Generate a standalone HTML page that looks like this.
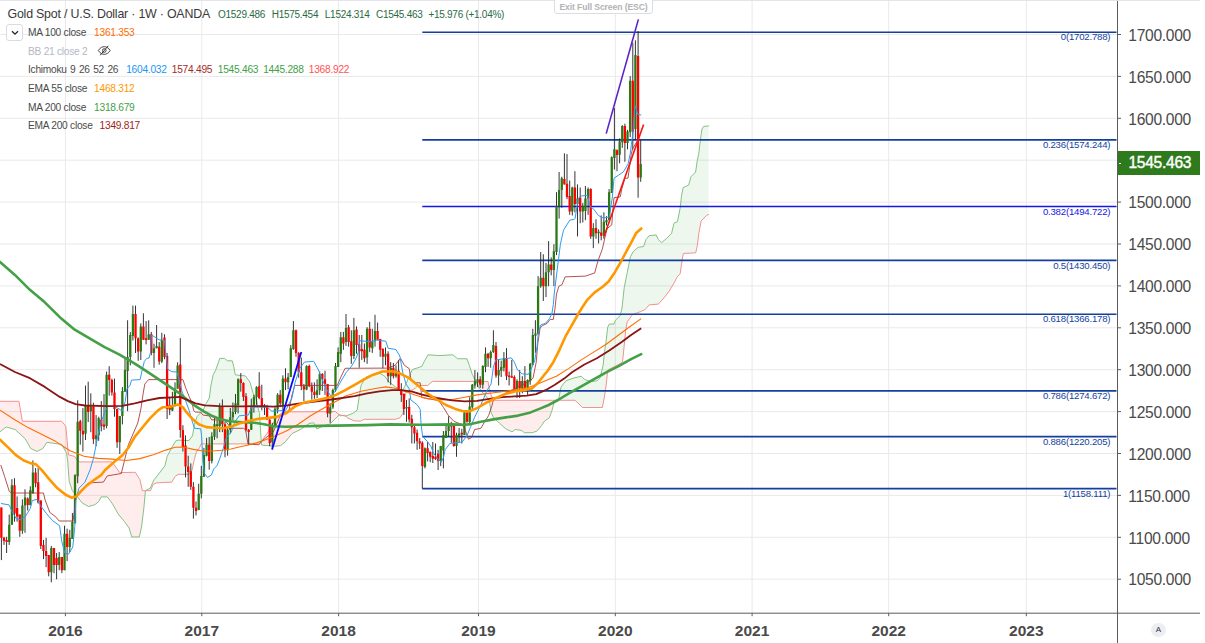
<!DOCTYPE html>
<html><head><meta charset="utf-8"><title>XAUUSD</title>
<style>
html,body{margin:0;padding:0;background:#fff;}
body{width:1205px;height:643px;position:relative;overflow:hidden;font-family:"Liberation Sans",sans-serif;}
svg{position:absolute;left:0;top:0;}
.t{position:absolute;white-space:nowrap;line-height:1;}
.pl{left:1128.3px;font-size:15.6px;color:#4a4a4a;letter-spacing:-0.3px;}
.yl{font-size:15.5px;font-weight:bold;color:#4a4a4a;width:60px;text-align:center;}
.fl{font-size:9.6px;width:120px;text-align:right;letter-spacing:-0.2px;}
.lg{left:28px;font-size:10.2px;color:#4a4a4a;letter-spacing:-0.26px;}
.lg span{position:absolute;top:0;}
</style></head><body>
<svg width="1205" height="643" viewBox="0 0 1205 643"><line x1="0" y1="579.2" x2="1117.5" y2="579.2" stroke="#e9e9e9" stroke-width="1"/>
<line x1="0" y1="537.3" x2="1117.5" y2="537.3" stroke="#e9e9e9" stroke-width="1"/>
<line x1="0" y1="495.4" x2="1117.5" y2="495.4" stroke="#e9e9e9" stroke-width="1"/>
<line x1="0" y1="453.5" x2="1117.5" y2="453.5" stroke="#e9e9e9" stroke-width="1"/>
<line x1="0" y1="411.6" x2="1117.5" y2="411.6" stroke="#e9e9e9" stroke-width="1"/>
<line x1="0" y1="369.7" x2="1117.5" y2="369.7" stroke="#e9e9e9" stroke-width="1"/>
<line x1="0" y1="327.8" x2="1117.5" y2="327.8" stroke="#e9e9e9" stroke-width="1"/>
<line x1="0" y1="285.9" x2="1117.5" y2="285.9" stroke="#e9e9e9" stroke-width="1"/>
<line x1="0" y1="244.0" x2="1117.5" y2="244.0" stroke="#e9e9e9" stroke-width="1"/>
<line x1="0" y1="202.1" x2="1117.5" y2="202.1" stroke="#e9e9e9" stroke-width="1"/>
<line x1="0" y1="160.2" x2="1117.5" y2="160.2" stroke="#e9e9e9" stroke-width="1"/>
<line x1="0" y1="118.3" x2="1117.5" y2="118.3" stroke="#e9e9e9" stroke-width="1"/>
<line x1="0" y1="76.4" x2="1117.5" y2="76.4" stroke="#e9e9e9" stroke-width="1"/>
<line x1="0" y1="34.5" x2="1117.5" y2="34.5" stroke="#e9e9e9" stroke-width="1"/>
<line x1="65.4" y1="0" x2="65.4" y2="613.2" stroke="#e9e9e9" stroke-width="1"/>
<line x1="201.8" y1="0" x2="201.8" y2="613.2" stroke="#e9e9e9" stroke-width="1"/>
<line x1="338.6" y1="0" x2="338.6" y2="613.2" stroke="#e9e9e9" stroke-width="1"/>
<line x1="478.5" y1="0" x2="478.5" y2="613.2" stroke="#e9e9e9" stroke-width="1"/>
<line x1="615.3" y1="0" x2="615.3" y2="613.2" stroke="#e9e9e9" stroke-width="1"/>
<line x1="752.1" y1="0" x2="752.1" y2="613.2" stroke="#e9e9e9" stroke-width="1"/>
<line x1="888.7" y1="0" x2="888.7" y2="613.2" stroke="#e9e9e9" stroke-width="1"/>
<line x1="1026.3" y1="0" x2="1026.3" y2="613.2" stroke="#e9e9e9" stroke-width="1"/>
<path d="M0.0,431.8 L0.5,431.4 L1.0,431.0 L1.5,430.6 L2.0,430.2 L2.5,429.9 L3.0,429.5 L3.5,429.1 L4.0,428.7 L4.5,428.3 L5.0,427.9 L5.5,427.5 L6.0,427.1 L6.5,427.0 L7.0,427.1 L7.5,427.3 L8.0,427.4 L8.5,427.6 L9.0,427.7 L9.5,427.9 L10.0,428.0 L10.5,428.2 L11.0,428.3 L11.5,428.5 L12.0,428.7 L12.5,428.8 L13.0,429.0 L13.5,429.1 L14.0,429.3 L14.5,429.4 L15.0,429.6 L15.5,429.8 L16.0,430.3 L16.5,430.7 L17.0,431.2 L17.5,431.6 L18.0,432.1 L18.5,432.6 L19.0,433.0 L19.5,433.5 L20.0,434.0 L20.5,434.4 L21.0,434.9 L21.5,435.4 L22.0,435.8 L22.5,436.3 L23.0,436.8 L23.5,437.2 L24.0,437.7 L24.5,438.2 L25.0,438.6 L25.5,439.3 L26.0,440.2 L26.5,441.1 L27.0,441.9 L27.5,442.8 L28.0,443.7 L28.5,444.6 L29.0,445.5 L29.5,446.3 L30.0,447.2 L30.5,448.1 L31.0,448.7 L31.5,448.9 L32.0,449.1 L32.5,449.4 L33.0,449.6 L33.5,449.8 L34.0,450.0 L34.5,450.2 L35.0,450.5 L35.5,450.7 L36.0,450.9 L36.5,451.1 L37.0,451.4 L37.5,451.2 L38.0,450.9 L38.5,450.7 L39.0,450.4 L39.5,450.2 L40.0,449.9 L40.5,449.7 L41.0,449.4 L41.5,449.2 L42.0,449.0 L42.5,448.7 L43.0,448.2 L43.5,447.4 L44.0,446.7 L44.5,445.9 L45.0,445.2 L45.5,444.4 L46.0,443.7 L46.5,442.9 L47.0,442.3 L47.5,442.4 L48.0,442.5 L48.5,442.5 L49.0,442.6 L49.5,442.7 L50.0,442.7 L50.5,442.8 L51.0,442.9 L51.5,443.0 L52.0,443.0 L52.5,443.1 L53.0,443.2 L53.5,443.2 L54.0,443.3 L54.5,443.4 L55.0,443.5 L55.5,443.5 L56.0,443.6 L56.5,443.7 L57.0,443.7 L57.5,443.8 L58.0,443.9 L58.5,444.0 L59.0,444.0 L59.5,444.1 L60.0,444.2 L60.5,444.2 L61.0,444.3 L61.5,444.4 L62.0,445.1 L62.5,445.9 L63.0,446.8 L63.5,447.7 L64.0,448.5 L64.5,449.4 L65.0,450.2 L65.5,451.1 L66.0,451.9 L66.5,452.8 L67.0,456.3 L67.5,459.7 L68.0,465.1 L68.5,471.9 L69.0,478.6 L69.5,482.2 L70.0,483.7 L70.5,485.2 L71.0,486.8 L71.5,488.3 L72.0,489.8 L72.5,490.9 L73.0,491.5 L73.5,492.1 L74.0,492.7 L74.5,493.3 L75.0,493.9 L75.5,494.5 L76.0,495.1 L76.5,495.7 L77.0,496.3 L77.5,496.9 L78.0,497.6 L78.5,498.2 L79.0,498.8 L79.5,499.5 L80.0,500.1 L80.5,500.7 L81.0,501.3 L81.5,502.0 L82.0,502.6 L82.5,503.2 L83.0,503.4 L83.5,503.7 L84.0,504.0 L84.5,504.3 L85.0,504.5 L85.5,504.8 L86.0,505.1 L86.5,505.3 L87.0,505.6 L87.5,505.9 L88.0,506.2 L88.5,506.4 L89.0,506.4 L89.5,506.2 L90.0,506.1 L90.5,506.0 L91.0,505.8 L91.5,505.7 L92.0,505.5 L92.5,505.4 L93.0,505.2 L93.5,505.1 L94.0,505.0 L94.5,504.8 L95.0,504.6 L95.5,504.2 L96.0,503.8 L96.5,503.4 L97.0,503.0 L97.5,502.6 L98.0,502.2 L98.5,501.7 L99.0,501.1 L99.5,500.1 L100.0,499.1 L100.5,498.1 L101.0,497.1 L101.5,496.9 L102.0,496.9 L102.5,496.9 L103.0,496.9 L103.5,496.9 L104.0,496.9 L104.5,496.9 L105.0,496.9 L105.5,496.9 L106.0,496.9 L106.5,496.9 L107.0,496.9 L107.5,497.2 L108.0,497.8 L108.5,498.5 L109.0,499.1 L109.5,499.8 L110.0,500.5 L110.5,501.1 L111.0,501.8 L111.5,502.4 L112.0,503.1 L112.5,504.0 L113.0,504.9 L113.5,505.7 L114.0,506.6 L114.5,507.5 L115.0,508.4 L115.5,509.3 L116.0,510.1 L116.5,511.0 L117.0,511.9 L117.5,512.8 L118.0,513.6 L118.5,514.4 L119.0,515.0 L119.5,515.6 L120.0,516.2 L120.5,516.8 L121.0,517.4 L121.5,518.0 L122.0,518.6 L122.5,519.2 L123.0,519.8 L123.5,520.4 L124.0,521.0 L124.5,521.6 L125.0,522.3 L125.5,523.0 L126.0,523.7 L126.5,524.4 L127.0,525.1 L127.5,525.8 L128.0,526.5 L128.5,527.2 L129.0,527.9 L129.5,529.3 L130.0,531.0 L130.5,532.7 L131.0,534.3 L131.5,536.0 L132.0,537.0 L132.5,537.0 L133.0,537.0 L133.5,537.0 L134.0,537.0 L134.5,537.0 L135.0,537.0 L135.5,537.0 L136.0,537.0 L136.5,537.0 L137.0,537.0 L137.5,537.0 L138.0,537.0 L138.5,537.0 L139.0,537.0 L139.5,536.1 L140.0,533.8 L140.5,531.5 L141.0,529.3 L141.5,527.0 L142.0,523.0 L142.5,519.0 L143.0,515.0 L143.5,511.0 L144.0,506.7 L144.5,501.0 L145.0,495.3 L145.5,490.6 L145.5,490.7 L145.0,490.7 L144.5,490.7 L144.0,490.7 L143.5,490.7 L143.0,490.7 L142.5,490.7 L142.0,489.3 L141.5,486.9 L141.0,484.5 L140.5,482.2 L140.0,479.8 L139.5,479.0 L139.0,478.2 L138.5,477.4 L138.0,476.6 L137.5,475.8 L137.0,475.0 L136.5,474.2 L136.0,473.4 L135.5,472.6 L135.0,472.3 L134.5,472.3 L134.0,472.3 L133.5,472.3 L133.0,472.3 L132.5,472.4 L132.0,472.4 L131.5,472.4 L131.0,472.4 L130.5,472.4 L130.0,472.4 L129.5,472.4 L129.0,472.4 L128.5,472.4 L128.0,472.4 L127.5,472.5 L127.0,472.5 L126.5,472.5 L126.0,472.5 L125.5,472.5 L125.0,472.5 L124.5,472.5 L124.0,472.5 L123.5,472.5 L123.0,472.5 L122.5,472.5 L122.0,472.6 L121.5,472.6 L121.0,472.6 L120.5,472.6 L120.0,472.6 L119.5,472.2 L119.0,471.5 L118.5,470.8 L118.0,470.2 L117.5,469.5 L117.0,468.8 L116.5,468.1 L116.0,467.4 L115.5,466.7 L115.0,466.1 L114.5,465.4 L114.0,464.7 L113.5,464.0 L113.0,463.3 L112.5,462.6 L112.0,461.9 L111.5,461.9 L111.0,461.9 L110.5,461.9 L110.0,461.9 L109.5,461.9 L109.0,461.9 L108.5,461.9 L108.0,461.9 L107.5,461.9 L107.0,461.9 L106.5,461.9 L106.0,461.9 L105.5,461.9 L105.0,461.9 L104.5,461.9 L104.0,461.9 L103.5,461.9 L103.0,461.9 L102.5,461.9 L102.0,461.9 L101.5,461.9 L101.0,461.9 L100.5,461.9 L100.0,461.9 L99.5,461.9 L99.0,461.9 L98.5,461.9 L98.0,461.9 L97.5,461.9 L97.0,461.9 L96.5,461.9 L96.0,461.9 L95.5,461.9 L95.0,461.9 L94.5,461.9 L94.0,461.9 L93.5,461.9 L93.0,461.9 L92.5,461.9 L92.0,461.9 L91.5,461.9 L91.0,461.9 L90.5,461.9 L90.0,461.9 L89.5,461.9 L89.0,461.9 L88.5,461.9 L88.0,461.9 L87.5,461.9 L87.0,461.9 L86.5,461.9 L86.0,461.9 L85.5,461.9 L85.0,461.9 L84.5,461.9 L84.0,461.9 L83.5,461.9 L83.0,461.9 L82.5,461.9 L82.0,461.9 L81.5,461.9 L81.0,461.9 L80.5,461.9 L80.0,461.9 L79.5,461.7 L79.0,461.5 L78.5,461.3 L78.0,461.2 L77.5,460.6 L77.0,459.9 L76.5,459.1 L76.0,458.4 L75.5,457.6 L75.0,456.9 L74.5,456.4 L74.0,456.2 L73.5,456.1 L73.0,456.0 L72.5,455.9 L72.0,455.8 L71.5,455.6 L71.0,455.5 L70.5,455.4 L70.0,455.3 L69.5,455.2 L69.0,455.0 L68.5,454.9 L68.0,450.5 L67.5,445.0 L67.0,439.4 L66.5,433.9 L66.0,428.4 L65.5,425.8 L65.0,425.3 L64.5,424.7 L64.0,424.1 L63.5,423.5 L63.0,422.9 L62.5,422.4 L62.0,421.8 L61.5,421.3 L61.0,421.3 L60.5,421.3 L60.0,421.3 L59.5,421.3 L59.0,421.3 L58.5,421.3 L58.0,421.3 L57.5,421.3 L57.0,421.3 L56.5,421.3 L56.0,421.3 L55.5,421.3 L55.0,421.3 L54.5,421.3 L54.0,421.3 L53.5,421.3 L53.0,421.3 L52.5,421.3 L52.0,421.3 L51.5,421.3 L51.0,421.3 L50.5,421.3 L50.0,421.3 L49.5,421.3 L49.0,421.3 L48.5,421.3 L48.0,421.3 L47.5,421.3 L47.0,421.3 L46.5,421.3 L46.0,421.3 L45.5,421.3 L45.0,421.3 L44.5,421.3 L44.0,421.3 L43.5,421.3 L43.0,421.3 L42.5,421.3 L42.0,421.3 L41.5,421.3 L41.0,421.3 L40.5,421.3 L40.0,421.3 L39.5,421.3 L39.0,421.3 L38.5,421.3 L38.0,421.3 L37.5,421.3 L37.0,421.3 L36.5,421.3 L36.0,421.3 L35.5,421.3 L35.0,421.3 L34.5,421.3 L34.0,421.3 L33.5,421.3 L33.0,421.3 L32.5,421.3 L32.0,421.3 L31.5,421.3 L31.0,421.3 L30.5,421.3 L30.0,421.3 L29.5,421.3 L29.0,421.3 L28.5,421.3 L28.0,421.3 L27.5,421.3 L27.0,421.3 L26.5,421.3 L26.0,421.3 L25.5,421.3 L25.0,421.3 L24.5,421.3 L24.0,421.3 L23.5,421.3 L23.0,421.3 L22.5,421.3 L22.0,419.0 L21.5,416.2 L21.0,413.3 L20.5,410.4 L20.0,407.6 L19.5,404.7 L19.0,401.9 L18.5,401.3 L18.0,401.3 L17.5,401.3 L17.0,401.3 L16.5,401.3 L16.0,401.3 L15.5,401.3 L15.0,401.3 L14.5,401.3 L14.0,401.3 L13.5,401.3 L13.0,401.3 L12.5,401.3 L12.0,401.3 L11.5,401.3 L11.0,401.3 L10.5,401.3 L10.0,401.3 L9.5,401.3 L9.0,401.3 L8.5,401.3 L8.0,401.3 L7.5,401.3 L7.0,401.3 L6.5,401.3 L6.0,401.3 L5.5,401.3 L5.0,401.3 L4.5,401.3 L4.0,401.3 L3.5,401.3 L3.0,401.3 L2.5,401.3 L2.0,401.3 L1.5,401.3 L1.0,401.3 L0.5,401.3 L0.0,401.3Z" fill="rgba(255,82,82,0.10)" stroke="none"/>
<path d="M145.5,490.6 L146.0,490.4 L146.5,490.1 L147.0,489.9 L147.5,489.6 L148.0,489.4 L148.5,489.1 L149.0,488.9 L149.5,488.6 L150.0,488.4 L150.5,487.4 L151.0,486.3 L151.5,485.2 L152.0,484.2 L152.5,483.1 L153.0,482.0 L153.5,480.9 L154.0,479.8 L154.5,479.2 L155.0,478.5 L155.5,477.9 L156.0,477.3 L156.5,476.7 L157.0,476.0 L157.5,475.4 L158.0,474.8 L158.5,474.1 L159.0,473.5 L159.5,472.9 L160.0,472.3 L160.5,471.6 L161.0,470.9 L161.5,470.3 L162.0,469.6 L162.5,469.0 L163.0,468.3 L163.5,467.6 L164.0,467.0 L164.5,466.3 L165.0,465.4 L165.5,463.3 L166.0,461.3 L166.5,459.3 L167.0,457.2 L167.5,455.8 L168.0,454.8 L168.5,453.8 L169.0,452.8 L169.5,451.9 L170.0,450.9 L170.5,449.9 L171.0,448.9 L171.5,448.0 L172.0,447.2 L172.5,446.3 L173.0,445.5 L173.5,444.6 L174.0,443.8 L174.5,442.9 L175.0,442.1 L175.5,441.2 L176.0,440.8 L176.5,440.7 L177.0,440.6 L177.5,440.4 L178.0,440.3 L178.5,440.2 L179.0,440.1 L179.5,440.1 L180.0,440.2 L180.5,440.2 L181.0,440.2 L181.5,440.2 L182.0,440.3 L182.5,440.3 L183.0,440.3 L183.5,440.3 L184.0,440.4 L184.5,440.4 L185.0,440.4 L185.5,440.4 L186.0,440.5 L186.5,440.5 L187.0,440.5 L187.5,440.5 L188.0,440.6 L188.5,440.6 L189.0,440.5 L189.5,439.8 L190.0,439.1 L190.5,438.5 L191.0,437.8 L191.5,437.1 L192.0,436.5 L192.5,435.8 L193.0,432.9 L193.5,430.1 L194.0,427.2 L194.5,424.4 L195.0,422.8 L195.5,421.2 L196.0,419.6 L196.5,418.0 L197.0,416.6 L197.5,416.1 L198.0,415.6 L198.5,415.1 L199.0,414.6 L199.5,414.1 L200.0,413.5 L200.5,413.0 L201.0,412.5 L201.5,412.0 L202.0,411.5 L202.5,411.0 L203.0,410.5 L203.5,409.5 L204.0,408.4 L204.5,407.2 L205.0,406.1 L205.5,405.0 L206.0,403.9 L206.5,402.9 L207.0,402.0 L207.5,401.1 L208.0,400.3 L208.5,399.4 L209.0,398.5 L209.5,396.5 L210.0,392.6 L210.5,388.7 L211.0,385.1 L211.5,382.8 L212.0,380.4 L212.5,378.0 L213.0,375.6 L213.5,374.2 L214.0,373.2 L214.5,372.3 L215.0,371.4 L215.5,370.5 L216.0,369.1 L216.5,367.8 L217.0,366.4 L217.5,365.0 L218.0,363.6 L218.5,362.2 L219.0,360.8 L219.5,359.3 L220.0,358.4 L220.5,358.4 L221.0,358.4 L221.5,358.4 L222.0,358.4 L222.5,358.4 L223.0,358.4 L223.5,358.4 L224.0,358.4 L224.5,358.5 L225.0,358.9 L225.5,359.3 L226.0,359.6 L226.5,360.0 L227.0,360.4 L227.5,360.8 L228.0,360.8 L228.5,360.8 L229.0,360.8 L229.5,360.8 L230.0,360.8 L230.5,360.8 L231.0,360.8 L231.5,360.8 L232.0,360.8 L232.5,361.9 L233.0,363.7 L233.5,365.5 L234.0,367.8 L234.5,370.5 L235.0,373.2 L235.5,374.8 L236.0,374.9 L236.5,375.0 L237.0,375.0 L237.5,375.1 L238.0,375.1 L238.5,375.2 L239.0,375.3 L239.5,375.3 L240.0,375.4 L240.5,375.5 L241.0,375.5 L241.5,375.6 L242.0,375.6 L242.5,375.7 L243.0,375.7 L243.5,375.7 L244.0,375.8 L244.5,375.8 L245.0,375.9 L245.5,376.0 L246.0,376.7 L246.5,377.4 L247.0,378.1 L247.5,378.8 L248.0,379.5 L248.5,380.2 L249.0,380.9 L249.5,381.6 L250.0,382.3 L250.5,384.1 L251.0,385.8 L251.5,387.6 L252.0,389.3 L252.5,391.1 L253.0,392.8 L253.5,394.0 L254.0,395.0 L254.5,396.0 L255.0,397.0 L255.5,398.0 L256.0,399.0 L256.5,400.9 L257.0,403.3 L257.5,405.7 L258.0,407.9 L258.5,409.8 L259.0,411.6 L259.5,413.4 L260.0,421.7 L260.5,430.0 L261.0,437.5 L261.5,445.0 L261.5,441.0 L261.0,441.6 L260.5,442.1 L260.0,442.7 L259.5,443.2 L259.0,443.8 L258.5,443.9 L258.0,443.9 L257.5,443.9 L257.0,443.9 L256.5,443.9 L256.0,443.9 L255.5,443.9 L255.0,443.9 L254.5,443.9 L254.0,443.9 L253.5,443.9 L253.0,443.9 L252.5,443.9 L252.0,443.9 L251.5,443.9 L251.0,443.9 L250.5,443.9 L250.0,443.9 L249.5,443.9 L249.0,443.9 L248.5,443.9 L248.0,443.9 L247.5,443.9 L247.0,443.9 L246.5,443.9 L246.0,443.9 L245.5,443.9 L245.0,443.9 L244.5,443.9 L244.0,443.9 L243.5,443.9 L243.0,443.9 L242.5,443.9 L242.0,443.9 L241.5,443.9 L241.0,443.9 L240.5,443.9 L240.0,443.9 L239.5,443.9 L239.0,443.9 L238.5,443.9 L238.0,443.9 L237.5,443.9 L237.0,443.9 L236.5,443.9 L236.0,443.9 L235.5,443.9 L235.0,443.9 L234.5,443.9 L234.0,443.9 L233.5,443.9 L233.0,443.9 L232.5,443.9 L232.0,443.9 L231.5,443.9 L231.0,443.9 L230.5,443.9 L230.0,443.9 L229.5,443.9 L229.0,443.9 L228.5,443.9 L228.0,443.9 L227.5,443.9 L227.0,443.9 L226.5,443.9 L226.0,443.9 L225.5,443.9 L225.0,443.9 L224.5,443.9 L224.0,443.9 L223.5,443.9 L223.0,443.9 L222.5,443.9 L222.0,443.9 L221.5,443.9 L221.0,443.9 L220.5,443.9 L220.0,443.9 L219.5,443.9 L219.0,443.9 L218.5,443.9 L218.0,443.9 L217.5,443.9 L217.0,443.9 L216.5,443.9 L216.0,443.9 L215.5,443.9 L215.0,443.9 L214.5,443.9 L214.0,443.9 L213.5,443.9 L213.0,443.9 L212.5,443.9 L212.0,443.9 L211.5,443.9 L211.0,443.9 L210.5,443.9 L210.0,443.9 L209.5,443.9 L209.0,443.9 L208.5,443.9 L208.0,443.9 L207.5,443.9 L207.0,443.9 L206.5,443.9 L206.0,443.9 L205.5,443.9 L205.0,443.9 L204.5,443.9 L204.0,443.9 L203.5,443.9 L203.0,443.9 L202.5,443.9 L202.0,443.9 L201.5,443.9 L201.0,443.9 L200.5,445.2 L200.0,446.5 L199.5,447.8 L199.0,448.5 L198.5,449.2 L198.0,449.8 L197.5,450.5 L197.0,451.2 L196.5,451.9 L196.0,453.4 L195.5,455.2 L195.0,457.0 L194.5,458.8 L194.0,460.9 L193.5,463.3 L193.0,465.7 L192.5,468.0 L192.0,470.4 L191.5,471.0 L191.0,471.7 L190.5,472.3 L190.0,472.9 L189.5,473.5 L189.0,474.2 L188.5,474.3 L188.0,474.3 L187.5,474.3 L187.0,474.3 L186.5,474.3 L186.0,474.3 L185.5,474.3 L185.0,474.3 L184.5,474.3 L184.0,474.3 L183.5,474.3 L183.0,474.3 L182.5,474.3 L182.0,474.3 L181.5,474.3 L181.0,474.3 L180.5,474.3 L180.0,474.3 L179.5,474.3 L179.0,474.3 L178.5,474.3 L178.0,474.3 L177.5,474.7 L177.0,475.1 L176.5,475.5 L176.0,475.8 L175.5,476.2 L175.0,476.6 L174.5,477.4 L174.0,478.3 L173.5,479.1 L173.0,480.0 L172.5,480.9 L172.0,481.8 L171.5,482.1 L171.0,482.1 L170.5,482.2 L170.0,482.2 L169.5,482.2 L169.0,482.2 L168.5,482.3 L168.0,482.3 L167.5,482.3 L167.0,482.3 L166.5,482.4 L166.0,482.4 L165.5,482.4 L165.0,482.4 L164.5,482.5 L164.0,482.5 L163.5,482.5 L163.0,482.6 L162.5,482.6 L162.0,482.6 L161.5,482.6 L161.0,482.7 L160.5,482.7 L160.0,482.7 L159.5,482.7 L159.0,482.8 L158.5,482.8 L158.0,482.8 L157.5,482.8 L157.0,482.9 L156.5,482.9 L156.0,483.0 L155.5,483.2 L155.0,483.5 L154.5,483.7 L154.0,484.0 L153.5,484.2 L153.0,484.6 L152.5,485.9 L152.0,487.1 L151.5,488.3 L151.0,489.5 L150.5,490.7 L150.0,490.7 L149.5,490.7 L149.0,490.7 L148.5,490.7 L148.0,490.7 L147.5,490.7 L147.0,490.7 L146.5,490.7 L146.0,490.7 L145.5,490.7Z" fill="rgba(76,175,80,0.10)" stroke="none"/>
<path d="M261.5,445.0 L262.0,445.1 L262.5,445.1 L263.0,445.2 L263.5,445.2 L264.0,445.3 L264.5,445.3 L265.0,445.4 L265.5,445.4 L266.0,445.5 L266.5,445.5 L267.0,445.6 L267.5,445.6 L268.0,445.7 L268.5,445.7 L269.0,445.8 L269.5,445.8 L270.0,445.9 L270.5,445.9 L271.0,446.0 L271.5,446.0 L272.0,446.1 L272.5,446.1 L273.0,446.2 L273.5,446.2 L274.0,446.3 L274.5,446.3 L275.0,446.2 L275.5,446.2 L276.0,446.1 L276.5,446.1 L277.0,446.0 L277.5,446.0 L278.0,445.9 L278.5,445.8 L279.0,445.8 L279.5,445.7 L280.0,445.7 L280.5,445.6 L281.0,445.3 L281.5,444.9 L282.0,444.5 L282.5,444.0 L283.0,443.6 L283.5,443.2 L284.0,442.8 L284.5,442.4 L285.0,442.0 L285.5,441.6 L286.0,441.0 L286.5,440.4 L287.0,439.8 L287.5,439.1 L288.0,438.5 L288.5,437.9 L289.0,437.3 L289.5,436.7 L290.0,436.1 L290.5,435.4 L291.0,434.8 L291.5,434.2 L292.0,433.6 L292.5,433.4 L293.0,433.1 L293.5,432.9 L294.0,432.6 L294.5,432.4 L295.0,432.1 L295.5,431.9 L296.0,431.6 L296.5,431.4 L297.0,431.1 L297.5,430.9 L298.0,430.6 L298.5,430.4 L299.0,430.1 L299.5,429.9 L300.0,429.6 L300.5,429.4 L301.0,429.1 L301.5,428.9 L302.0,428.5 L302.5,428.2 L303.0,427.8 L303.5,427.4 L304.0,427.1 L304.5,426.7 L305.0,426.4 L305.5,426.0 L306.0,425.7 L306.5,425.3 L307.0,425.0 L307.5,424.6 L308.0,424.3 L308.5,423.9 L309.0,423.6 L309.5,423.4 L310.0,423.4 L310.5,423.3 L311.0,423.2 L311.5,423.1 L312.0,423.1 L312.5,423.0 L313.0,422.9 L313.5,422.8 L314.0,423.4 L314.5,424.4 L315.0,425.3 L315.5,426.3 L316.0,427.3 L316.5,428.2 L317.0,428.9 L317.5,428.7 L318.0,428.4 L318.5,428.2 L319.0,427.9 L319.5,427.7 L320.0,427.4 L320.5,427.2 L321.0,426.9 L321.5,426.7 L322.0,426.4 L322.5,426.2 L323.0,425.9 L323.5,425.8 L324.0,425.7 L324.5,425.5 L325.0,425.4 L325.5,425.2 L326.0,425.1 L326.5,425.0 L327.0,424.8 L327.5,424.7 L328.0,424.6 L328.5,424.4 L329.0,424.3 L329.5,424.1 L330.0,424.0 L330.5,423.5 L331.0,423.0 L331.5,422.5 L332.0,422.0 L332.5,421.5 L333.0,421.0 L333.5,420.5 L334.0,420.0 L334.5,419.5 L335.0,419.0 L335.5,418.5 L336.0,418.0 L336.5,417.5 L337.0,417.0 L337.5,416.5 L338.0,416.0 L338.5,415.5 L339.0,415.0 L339.5,414.7 L339.5,415.2 L339.0,414.7 L338.5,414.3 L338.0,413.8 L337.5,413.4 L337.0,412.9 L336.5,412.5 L336.0,412.0 L335.5,411.6 L335.0,411.6 L334.5,411.6 L334.0,411.6 L333.5,411.6 L333.0,411.6 L332.5,411.6 L332.0,411.6 L331.5,411.6 L331.0,411.6 L330.5,411.6 L330.0,411.6 L329.5,411.6 L329.0,411.6 L328.5,411.6 L328.0,411.6 L327.5,411.6 L327.0,411.6 L326.5,411.7 L326.0,411.7 L325.5,411.7 L325.0,411.7 L324.5,411.7 L324.0,411.7 L323.5,411.7 L323.0,411.7 L322.5,411.7 L322.0,411.7 L321.5,411.7 L321.0,411.7 L320.5,411.7 L320.0,411.7 L319.5,411.7 L319.0,411.7 L318.5,411.7 L318.0,411.7 L317.5,411.7 L317.0,411.7 L316.5,411.7 L316.0,411.7 L315.5,411.7 L315.0,411.7 L314.5,411.7 L314.0,411.7 L313.5,411.7 L313.0,411.7 L312.5,411.7 L312.0,411.7 L311.5,411.7 L311.0,411.7 L310.5,411.7 L310.0,411.7 L309.5,411.7 L309.0,411.8 L308.5,411.8 L308.0,411.8 L307.5,411.8 L307.0,411.8 L306.5,411.8 L306.0,411.8 L305.5,411.8 L305.0,411.8 L304.5,411.8 L304.0,411.8 L303.5,411.8 L303.0,411.8 L302.5,411.8 L302.0,411.8 L301.5,411.8 L301.0,411.8 L300.5,411.8 L300.0,411.8 L299.5,411.8 L299.0,411.8 L298.5,411.8 L298.0,411.8 L297.5,411.8 L297.0,411.8 L296.5,411.8 L296.0,411.8 L295.5,411.8 L295.0,411.8 L294.5,411.8 L294.0,411.8 L293.5,411.8 L293.0,411.8 L292.5,411.8 L292.0,411.8 L291.5,411.8 L291.0,411.9 L290.5,411.9 L290.0,411.9 L289.5,411.9 L289.0,411.9 L288.5,411.9 L288.0,411.9 L287.5,411.9 L287.0,411.9 L286.5,411.9 L286.0,411.9 L285.5,411.9 L285.0,411.9 L284.5,411.9 L284.0,411.9 L283.5,411.9 L283.0,411.9 L282.5,412.0 L282.0,412.5 L281.5,413.0 L281.0,413.5 L280.5,414.0 L280.0,414.5 L279.5,415.0 L279.0,415.5 L278.5,416.0 L278.0,416.5 L277.5,417.0 L277.0,417.5 L276.5,418.0 L276.0,418.8 L275.5,419.6 L275.0,420.4 L274.5,421.2 L274.0,422.1 L273.5,422.9 L273.0,423.7 L272.5,424.6 L272.0,425.4 L271.5,426.2 L271.0,427.0 L270.5,427.9 L270.0,428.7 L269.5,429.5 L269.0,430.3 L268.5,431.2 L268.0,432.0 L267.5,432.7 L267.0,433.4 L266.5,434.1 L266.0,434.8 L265.5,435.5 L265.0,436.2 L264.5,437.0 L264.0,437.7 L263.5,438.4 L263.0,439.1 L262.5,439.8 L262.0,440.5 L261.5,441.0Z" fill="rgba(255,82,82,0.10)" stroke="none"/>
<path d="M339.5,414.7 L340.0,414.9 L340.5,415.0 L341.0,415.1 L341.5,415.2 L342.0,415.3 L342.5,415.5 L343.0,415.6 L343.0,415.5 L342.5,415.6 L342.0,415.6 L341.5,415.7 L341.0,415.7 L340.5,415.8 L340.0,415.6 L339.5,415.2Z" fill="rgba(76,175,80,0.10)" stroke="none"/>
<path d="M343.0,415.6 L343.5,415.7 L344.0,415.8 L344.5,415.9 L345.0,416.1 L345.5,416.2 L346.0,416.0 L346.0,416.3 L345.5,415.8 L345.0,415.4 L344.5,415.3 L344.0,415.4 L343.5,415.4 L343.0,415.5Z" fill="rgba(255,82,82,0.10)" stroke="none"/>
<path d="M346.0,416.0 L346.5,415.8 L347.0,415.6 L347.5,415.4 L348.0,415.2 L348.5,415.0 L349.0,414.8 L349.5,414.6 L350.0,414.4 L350.5,414.2 L351.0,414.0 L351.5,413.8 L352.0,413.6 L352.5,413.4 L353.0,413.2 L353.5,412.9 L354.0,412.5 L354.5,412.1 L355.0,411.7 L355.5,411.4 L356.0,411.0 L356.5,410.6 L357.0,410.2 L357.5,408.0 L358.0,404.6 L358.5,401.1 L359.0,397.9 L359.5,394.8 L360.0,391.8 L360.5,388.8 L361.0,385.7 L361.5,384.4 L362.0,383.6 L362.5,382.8 L363.0,381.9 L363.5,381.1 L364.0,380.3 L364.5,379.5 L365.0,378.6 L365.5,377.8 L366.0,377.2 L366.5,377.0 L367.0,376.8 L367.5,376.6 L368.0,376.4 L368.5,376.2 L369.0,376.0 L369.5,375.8 L370.0,375.6 L370.5,375.4 L371.0,375.2 L371.5,375.0 L372.0,374.8 L372.5,374.6 L373.0,374.4 L373.5,374.2 L374.0,374.1 L374.5,374.1 L375.0,374.0 L375.5,373.9 L376.0,373.9 L376.5,373.8 L377.0,373.8 L377.5,373.7 L378.0,373.6 L378.5,373.6 L379.0,373.5 L379.5,373.4 L380.0,373.5 L380.5,373.8 L381.0,374.0 L381.5,374.3 L382.0,374.5 L382.5,374.8 L383.0,375.1 L383.5,375.3 L384.0,375.6 L384.5,375.9 L385.0,376.6 L385.5,377.3 L386.0,377.9 L386.5,378.6 L387.0,379.2 L387.5,379.9 L388.0,380.5 L388.5,381.2 L389.0,381.9 L389.5,382.3 L390.0,382.7 L390.5,383.1 L391.0,383.4 L391.5,383.8 L392.0,384.2 L392.5,384.6 L393.0,385.0 L393.5,385.3 L394.0,385.7 L394.5,386.1 L395.0,386.5 L395.5,386.8 L396.0,387.2 L396.5,387.5 L397.0,387.8 L397.5,388.2 L398.0,388.5 L398.5,388.8 L399.0,389.1 L399.5,389.5 L400.0,389.8 L400.5,389.8 L401.0,389.8 L401.5,389.8 L402.0,389.8 L402.5,389.8 L403.0,389.8 L403.5,389.0 L404.0,388.0 L404.5,387.0 L405.0,385.9 L405.5,384.9 L406.0,383.9 L406.5,382.8 L407.0,381.5 L407.5,380.3 L408.0,379.0 L408.5,377.8 L409.0,376.5 L409.5,375.4 L410.0,374.4 L410.5,373.4 L411.0,372.3 L411.5,371.3 L412.0,370.3 L412.5,369.5 L413.0,369.3 L413.5,369.1 L414.0,369.0 L414.5,368.8 L415.0,368.7 L415.5,368.5 L416.0,368.4 L416.5,368.2 L417.0,368.0 L417.5,367.9 L418.0,367.7 L418.5,367.5 L419.0,367.4 L419.5,367.2 L420.0,367.0 L420.5,366.8 L421.0,366.7 L421.5,366.5 L422.0,366.0 L422.5,365.0 L423.0,364.0 L423.5,363.0 L424.0,362.0 L424.5,361.0 L425.0,360.0 L425.5,359.2 L426.0,358.3 L426.5,357.4 L427.0,356.5 L427.5,355.7 L428.0,354.8 L428.5,354.8 L429.0,354.9 L429.5,354.9 L430.0,354.9 L430.5,355.0 L431.0,355.0 L431.5,355.1 L432.0,355.1 L432.5,355.1 L433.0,355.2 L433.5,355.2 L434.0,355.2 L434.5,355.3 L435.0,355.3 L435.5,355.4 L436.0,355.4 L436.5,355.4 L437.0,355.5 L437.5,355.5 L438.0,355.5 L438.5,355.6 L439.0,355.6 L439.5,355.6 L440.0,355.5 L440.5,355.5 L441.0,355.5 L441.5,355.5 L442.0,355.4 L442.5,355.4 L443.0,355.4 L443.5,355.3 L444.0,355.3 L444.5,355.3 L445.0,355.3 L445.5,355.2 L446.0,355.2 L446.5,355.2 L447.0,355.1 L447.5,355.1 L448.0,355.1 L448.5,355.1 L449.0,355.0 L449.5,355.0 L450.0,355.0 L450.5,354.9 L451.0,354.9 L451.5,354.9 L452.0,354.9 L452.5,354.8 L453.0,354.9 L453.5,355.3 L454.0,355.7 L454.5,356.2 L455.0,356.6 L455.5,357.0 L456.0,357.4 L456.5,357.9 L457.0,358.3 L457.5,358.7 L458.0,358.7 L458.5,358.7 L459.0,358.7 L459.5,358.7 L460.0,358.7 L460.5,358.7 L461.0,358.7 L461.5,358.7 L462.0,358.7 L462.5,358.8 L463.0,358.8 L463.5,358.8 L464.0,358.8 L464.5,358.8 L465.0,358.8 L465.5,358.8 L466.0,358.8 L466.5,358.8 L467.0,358.8 L467.5,360.2 L468.0,361.6 L468.5,363.0 L469.0,364.5 L469.5,365.9 L470.0,367.4 L470.5,368.9 L471.0,370.5 L471.5,372.0 L472.0,373.5 L472.5,374.9 L473.0,375.9 L473.5,376.8 L474.0,377.8 L474.5,378.8 L475.0,379.7 L475.5,380.7 L476.0,381.7 L476.0,381.4 L475.5,381.4 L475.0,381.4 L474.5,381.4 L474.0,381.4 L473.5,381.4 L473.0,381.4 L472.5,381.4 L472.0,381.4 L471.5,381.4 L471.0,381.4 L470.5,381.4 L470.0,381.4 L469.5,381.4 L469.0,381.4 L468.5,381.4 L468.0,381.4 L467.5,381.4 L467.0,381.4 L466.5,381.4 L466.0,381.4 L465.5,381.4 L465.0,381.4 L464.5,381.4 L464.0,381.4 L463.5,381.4 L463.0,381.4 L462.5,381.4 L462.0,381.4 L461.5,381.4 L461.0,381.4 L460.5,381.4 L460.0,381.4 L459.5,381.4 L459.0,381.4 L458.5,381.4 L458.0,381.4 L457.5,381.4 L457.0,381.4 L456.5,381.4 L456.0,381.4 L455.5,381.4 L455.0,381.4 L454.5,381.4 L454.0,381.4 L453.5,381.4 L453.0,381.4 L452.5,381.4 L452.0,381.4 L451.5,381.4 L451.0,381.4 L450.5,381.4 L450.0,381.4 L449.5,381.4 L449.0,381.4 L448.5,381.4 L448.0,381.4 L447.5,381.4 L447.0,381.4 L446.5,381.4 L446.0,381.4 L445.5,381.4 L445.0,381.4 L444.5,381.4 L444.0,381.4 L443.5,381.4 L443.0,381.4 L442.5,381.4 L442.0,381.4 L441.5,381.4 L441.0,381.4 L440.5,381.4 L440.0,381.4 L439.5,381.4 L439.0,381.4 L438.5,381.4 L438.0,381.4 L437.5,381.4 L437.0,381.4 L436.5,381.4 L436.0,381.4 L435.5,381.4 L435.0,381.4 L434.5,381.4 L434.0,381.4 L433.5,381.4 L433.0,381.4 L432.5,381.4 L432.0,381.7 L431.5,382.2 L431.0,382.6 L430.5,383.1 L430.0,383.5 L429.5,383.9 L429.0,384.4 L428.5,384.8 L428.0,385.2 L427.5,385.5 L427.0,385.5 L426.5,385.5 L426.0,385.5 L425.5,385.5 L425.0,385.5 L424.5,385.5 L424.0,385.5 L423.5,385.5 L423.0,385.5 L422.5,385.5 L422.0,385.5 L421.5,385.5 L421.0,385.5 L420.5,385.5 L420.0,385.5 L419.5,385.5 L419.0,385.5 L418.5,385.5 L418.0,385.8 L417.5,386.3 L417.0,386.7 L416.5,387.2 L416.0,387.6 L415.5,388.0 L415.0,388.4 L414.5,388.7 L414.0,389.0 L413.5,389.2 L413.0,389.5 L412.5,389.8 L412.0,390.0 L411.5,390.2 L411.0,390.3 L410.5,390.4 L410.0,390.5 L409.5,390.6 L409.0,390.7 L408.5,390.8 L408.0,390.9 L407.5,391.0 L407.0,391.1 L406.5,391.2 L406.0,392.3 L405.5,394.9 L405.0,397.5 L404.5,400.8 L404.0,405.2 L403.5,409.6 L403.0,413.3 L402.5,414.0 L402.0,414.8 L401.5,415.5 L401.0,416.3 L400.5,417.0 L400.0,417.8 L399.5,418.0 L399.0,418.1 L398.5,418.3 L398.0,418.4 L397.5,418.6 L397.0,418.8 L396.5,418.9 L396.0,419.1 L395.5,419.2 L395.0,419.3 L394.5,419.3 L394.0,419.3 L393.5,419.3 L393.0,419.3 L392.5,419.3 L392.0,419.3 L391.5,419.3 L391.0,419.3 L390.5,419.3 L390.0,419.3 L389.5,419.3 L389.0,419.3 L388.5,419.3 L388.0,419.3 L387.5,419.3 L387.0,419.3 L386.5,419.3 L386.0,419.3 L385.5,419.3 L385.0,419.3 L384.5,419.3 L384.0,419.3 L383.5,419.3 L383.0,419.3 L382.5,419.3 L382.0,419.3 L381.5,419.3 L381.0,419.3 L380.5,419.3 L380.0,419.3 L379.5,419.3 L379.0,419.3 L378.5,419.3 L378.0,419.3 L377.5,419.3 L377.0,419.3 L376.5,419.3 L376.0,419.3 L375.5,419.3 L375.0,419.3 L374.5,419.3 L374.0,419.3 L373.5,419.3 L373.0,419.3 L372.5,419.3 L372.0,419.3 L371.5,419.3 L371.0,419.3 L370.5,419.3 L370.0,419.3 L369.5,419.3 L369.0,419.3 L368.5,419.3 L368.0,419.3 L367.5,419.3 L367.0,419.3 L366.5,419.3 L366.0,419.3 L365.5,419.3 L365.0,419.3 L364.5,419.3 L364.0,419.4 L363.5,419.6 L363.0,419.9 L362.5,420.1 L362.0,420.4 L361.5,420.6 L361.0,420.9 L360.5,421.1 L360.0,421.2 L359.5,421.1 L359.0,421.1 L358.5,421.1 L358.0,421.0 L357.5,421.0 L357.0,421.0 L356.5,420.9 L356.0,420.9 L355.5,420.9 L355.0,420.9 L354.5,420.8 L354.0,420.7 L353.5,420.5 L353.0,420.3 L352.5,420.1 L352.0,419.8 L351.5,419.6 L351.0,419.4 L350.5,419.2 L350.0,419.0 L349.5,418.8 L349.0,418.5 L348.5,418.3 L348.0,418.1 L347.5,417.6 L347.0,417.2 L346.5,416.7 L346.0,416.3Z" fill="rgba(76,175,80,0.10)" stroke="none"/>
<path d="M476.0,381.7 L476.5,382.7 L477.0,383.7 L477.5,384.7 L478.0,385.7 L478.5,386.7 L479.0,387.6 L479.5,388.3 L480.0,389.1 L480.5,389.8 L481.0,390.6 L481.5,391.3 L482.0,392.0 L482.5,392.6 L483.0,393.1 L483.5,393.6 L484.0,394.2 L484.5,394.7 L485.0,395.3 L485.5,395.8 L486.0,396.3 L486.5,396.9 L487.0,397.4 L487.5,398.0 L488.0,398.5 L488.5,399.0 L489.0,399.6 L489.5,400.8 L490.0,404.7 L490.5,408.5 L491.0,412.4 L491.5,413.4 L492.0,414.4 L492.5,415.5 L493.0,416.5 L493.5,417.3 L494.0,417.8 L494.5,418.3 L495.0,418.8 L495.5,419.3 L496.0,419.8 L496.5,420.3 L497.0,420.8 L497.5,421.3 L498.0,421.8 L498.5,422.3 L499.0,422.8 L499.5,423.3 L500.0,423.7 L500.5,424.2 L501.0,424.6 L501.5,425.0 L502.0,425.5 L502.5,425.9 L503.0,426.4 L503.5,426.8 L504.0,427.2 L504.5,427.7 L505.0,428.1 L505.5,428.5 L506.0,428.9 L506.5,429.1 L507.0,429.4 L507.5,429.6 L508.0,429.9 L508.5,430.1 L509.0,430.4 L509.5,430.6 L510.0,430.9 L510.5,431.1 L511.0,431.4 L511.5,431.6 L512.0,431.9 L512.5,431.5 L513.0,431.1 L513.5,430.7 L514.0,430.4 L514.5,430.0 L515.0,429.6 L515.5,429.6 L516.0,429.6 L516.5,429.7 L517.0,429.7 L517.5,429.8 L518.0,429.9 L518.5,429.9 L519.0,430.0 L519.5,430.1 L520.0,430.1 L520.5,430.2 L521.0,430.3 L521.5,430.5 L522.0,430.8 L522.5,431.2 L523.0,431.6 L523.5,432.0 L524.0,432.4 L524.5,432.7 L525.0,432.7 L525.5,432.7 L526.0,432.7 L526.5,432.7 L527.0,432.7 L527.5,432.7 L528.0,432.7 L528.5,432.7 L529.0,432.7 L529.5,432.7 L530.0,432.7 L530.5,432.7 L531.0,432.7 L531.5,432.7 L532.0,432.7 L532.5,432.6 L533.0,432.4 L533.5,432.3 L534.0,432.1 L534.5,431.9 L535.0,431.7 L535.5,431.6 L536.0,431.4 L536.5,431.2 L537.0,431.0 L537.5,430.4 L538.0,429.8 L538.5,429.2 L539.0,428.6 L539.5,428.0 L540.0,427.5 L540.5,426.9 L541.0,426.3 L541.5,425.7 L542.0,424.9 L542.5,424.2 L543.0,423.4 L543.5,422.7 L544.0,421.9 L544.5,421.2 L545.0,420.7 L545.5,420.4 L546.0,420.1 L546.5,419.7 L547.0,419.4 L547.5,419.1 L548.0,418.8 L548.5,418.4 L549.0,418.1 L549.5,417.3 L550.0,416.0 L550.5,414.6 L551.0,413.2 L551.5,411.8 L552.0,410.4 L552.5,408.8 L553.0,406.6 L553.5,404.3 L554.0,402.0 L554.5,401.6 L555.0,401.3 L555.5,400.9 L556.0,400.5 L556.5,400.2 L556.5,400.3 L556.0,400.3 L555.5,400.3 L555.0,400.3 L554.5,400.3 L554.0,400.3 L553.5,400.3 L553.0,400.3 L552.5,400.3 L552.0,400.3 L551.5,400.3 L551.0,400.3 L550.5,400.3 L550.0,400.3 L549.5,400.3 L549.0,400.3 L548.5,400.3 L548.0,400.3 L547.5,400.3 L547.0,400.3 L546.5,400.3 L546.0,400.3 L545.5,400.3 L545.0,400.3 L544.5,400.3 L544.0,400.3 L543.5,400.3 L543.0,400.3 L542.5,400.3 L542.0,400.3 L541.5,400.3 L541.0,400.3 L540.5,400.3 L540.0,400.3 L539.5,400.3 L539.0,400.3 L538.5,400.3 L538.0,400.3 L537.5,400.3 L537.0,400.3 L536.5,400.3 L536.0,400.3 L535.5,400.3 L535.0,400.3 L534.5,400.3 L534.0,400.3 L533.5,400.3 L533.0,400.3 L532.5,400.3 L532.0,400.3 L531.5,400.3 L531.0,400.3 L530.5,400.3 L530.0,400.3 L529.5,400.3 L529.0,400.3 L528.5,400.3 L528.0,400.3 L527.5,400.3 L527.0,400.3 L526.5,400.3 L526.0,400.3 L525.5,400.3 L525.0,400.3 L524.5,400.3 L524.0,400.3 L523.5,400.3 L523.0,400.3 L522.5,400.3 L522.0,400.3 L521.5,400.3 L521.0,400.3 L520.5,400.3 L520.0,400.3 L519.5,400.3 L519.0,400.3 L518.5,400.3 L518.0,400.3 L517.5,400.3 L517.0,400.3 L516.5,400.3 L516.0,400.3 L515.5,400.3 L515.0,400.3 L514.5,400.3 L514.0,400.3 L513.5,400.3 L513.0,400.3 L512.5,400.3 L512.0,400.3 L511.5,400.3 L511.0,400.3 L510.5,400.3 L510.0,400.3 L509.5,400.3 L509.0,400.3 L508.5,400.3 L508.0,400.3 L507.5,400.3 L507.0,400.3 L506.5,400.3 L506.0,400.3 L505.5,400.3 L505.0,400.3 L504.5,400.3 L504.0,400.3 L503.5,400.3 L503.0,400.3 L502.5,400.3 L502.0,400.3 L501.5,400.3 L501.0,400.3 L500.5,400.3 L500.0,400.3 L499.5,400.3 L499.0,400.3 L498.5,400.3 L498.0,400.3 L497.5,400.3 L497.0,400.3 L496.5,400.3 L496.0,400.3 L495.5,400.3 L495.0,400.3 L494.5,400.3 L494.0,400.3 L493.5,400.3 L493.0,399.4 L492.5,398.2 L492.0,397.1 L491.5,395.9 L491.0,394.7 L490.5,393.2 L490.0,391.7 L489.5,390.2 L489.0,387.3 L488.5,384.3 L488.0,381.4 L487.5,381.4 L487.0,381.4 L486.5,381.4 L486.0,381.4 L485.5,381.4 L485.0,381.4 L484.5,381.4 L484.0,381.4 L483.5,381.4 L483.0,381.4 L482.5,381.4 L482.0,381.4 L481.5,381.4 L481.0,381.4 L480.5,381.4 L480.0,381.4 L479.5,381.4 L479.0,381.4 L478.5,381.4 L478.0,381.4 L477.5,381.4 L477.0,381.4 L476.5,381.4 L476.0,381.4Z" fill="rgba(255,82,82,0.10)" stroke="none"/>
<path d="M556.5,400.2 L557.0,399.8 L557.5,399.4 L558.0,399.1 L558.5,398.7 L559.0,397.5 L559.5,394.9 L560.0,392.3 L560.5,389.7 L561.0,387.1 L561.5,386.5 L562.0,385.8 L562.5,385.2 L563.0,384.5 L563.5,383.9 L564.0,383.2 L564.5,382.6 L565.0,381.9 L565.5,381.3 L566.0,380.8 L566.5,380.6 L567.0,380.4 L567.5,380.2 L568.0,380.0 L568.5,379.9 L569.0,379.7 L569.5,379.5 L570.0,379.3 L570.5,379.1 L571.0,378.9 L571.5,378.7 L572.0,378.5 L572.5,378.4 L573.0,378.3 L573.5,378.1 L574.0,378.0 L574.5,377.9 L575.0,377.8 L575.5,377.6 L576.0,377.5 L576.5,377.4 L577.0,377.3 L577.5,377.1 L578.0,377.0 L578.5,376.9 L579.0,376.8 L579.5,376.6 L580.0,376.5 L580.5,376.4 L581.0,376.3 L581.5,376.4 L582.0,376.9 L582.5,377.4 L583.0,377.9 L583.5,378.4 L584.0,378.9 L584.5,379.3 L585.0,379.5 L585.5,379.7 L586.0,379.9 L586.5,380.1 L587.0,380.3 L587.5,380.5 L588.0,380.6 L588.5,380.8 L589.0,381.0 L589.5,381.2 L590.0,381.4 L590.5,381.6 L591.0,381.6 L591.5,381.5 L592.0,381.4 L592.5,381.4 L593.0,381.3 L593.5,381.3 L594.0,381.2 L594.5,381.2 L595.0,381.1 L595.5,381.1 L596.0,381.0 L596.5,380.9 L597.0,380.8 L597.5,380.3 L598.0,379.8 L598.5,379.3 L599.0,378.8 L599.5,378.3 L600.0,377.8 L600.5,375.8 L601.0,373.8 L601.5,371.8 L602.0,369.7 L602.5,367.7 L603.0,365.7 L603.5,361.6 L604.0,356.9 L604.5,352.2 L605.0,348.6 L605.5,345.2 L606.0,341.8 L606.5,337.8 L607.0,333.4 L607.5,329.0 L608.0,326.6 L608.5,325.6 L609.0,324.7 L609.5,324.1 L610.0,324.1 L610.5,324.1 L611.0,324.1 L611.5,324.1 L612.0,324.1 L612.5,324.1 L613.0,324.1 L613.5,324.1 L614.0,324.1 L614.5,322.8 L615.0,321.5 L615.5,320.2 L616.0,319.7 L616.5,319.2 L617.0,318.7 L617.5,318.2 L618.0,317.8 L618.5,317.3 L619.0,316.8 L619.5,316.3 L620.0,315.8 L620.5,314.3 L621.0,312.2 L621.5,310.1 L622.0,308.0 L622.5,303.4 L623.0,298.8 L623.5,294.2 L624.0,289.6 L624.5,286.3 L625.0,283.8 L625.5,281.3 L626.0,278.7 L626.5,276.2 L627.0,273.7 L627.5,271.2 L628.0,268.7 L628.5,266.2 L629.0,263.7 L629.5,261.2 L630.0,258.7 L630.5,256.5 L631.0,255.6 L631.5,254.7 L632.0,253.9 L632.5,253.0 L633.0,252.1 L633.5,251.2 L634.0,250.8 L634.5,250.4 L635.0,250.0 L635.5,249.5 L636.0,249.1 L636.5,248.7 L637.0,248.3 L637.5,247.9 L638.0,247.5 L638.5,247.3 L639.0,247.2 L639.5,247.1 L640.0,247.0 L640.5,247.0 L641.0,246.9 L641.5,246.8 L642.0,246.7 L642.5,246.7 L643.0,246.6 L643.5,246.5 L644.0,245.3 L644.5,243.9 L645.0,242.4 L645.5,241.0 L646.0,239.5 L646.5,238.9 L647.0,238.3 L647.5,237.7 L648.0,237.0 L648.5,236.4 L649.0,235.8 L649.5,235.7 L650.0,235.6 L650.5,235.5 L651.0,235.5 L651.5,235.4 L652.0,235.4 L652.5,235.3 L653.0,235.3 L653.5,235.2 L654.0,235.1 L654.5,235.1 L655.0,235.0 L655.5,235.0 L656.0,234.9 L656.5,235.7 L657.0,236.7 L657.5,237.7 L658.0,238.7 L658.5,239.6 L659.0,240.1 L659.5,240.6 L660.0,241.2 L660.5,241.7 L661.0,242.2 L661.5,242.7 L662.0,242.3 L662.5,241.9 L663.0,241.5 L663.5,241.0 L664.0,240.6 L664.5,240.2 L665.0,239.8 L665.5,239.4 L666.0,239.0 L666.5,238.5 L667.0,238.0 L667.5,237.5 L668.0,237.0 L668.5,236.5 L669.0,235.9 L669.5,235.4 L670.0,234.9 L670.5,234.4 L671.0,233.9 L671.5,233.4 L672.0,231.6 L672.5,229.5 L673.0,227.4 L673.5,225.3 L674.0,223.2 L674.5,223.0 L675.0,222.8 L675.5,222.5 L676.0,222.3 L676.5,222.1 L677.0,221.9 L677.5,221.2 L678.0,218.8 L678.5,216.3 L679.0,213.9 L679.5,211.4 L680.0,209.0 L680.5,205.0 L681.0,200.6 L681.5,196.2 L682.0,193.4 L682.5,190.9 L683.0,188.5 L683.5,187.4 L684.0,187.2 L684.5,186.9 L685.0,186.7 L685.5,186.5 L686.0,186.3 L686.5,186.1 L687.0,185.9 L687.5,185.7 L688.0,185.5 L688.5,185.2 L689.0,183.8 L689.5,182.0 L690.0,180.2 L690.5,178.5 L691.0,176.7 L691.5,176.2 L692.0,175.7 L692.5,175.2 L693.0,174.7 L693.5,174.1 L694.0,173.6 L694.5,173.1 L695.0,172.6 L695.5,172.1 L696.0,169.3 L696.5,165.9 L697.0,162.5 L697.5,159.6 L698.0,157.2 L698.5,154.8 L699.0,151.6 L699.5,147.5 L700.0,143.4 L700.5,139.3 L701.0,135.5 L701.5,132.2 L702.0,129.0 L702.5,128.2 L703.0,127.3 L703.5,126.5 L704.0,126.4 L704.5,126.4 L705.0,126.3 L705.5,126.3 L706.0,126.2 L706.5,126.2 L707.0,126.1 L707.5,126.1 L708.0,126.0 L708.5,125.9 L708.5,214.6 L708.0,214.8 L707.5,215.0 L707.0,215.2 L706.5,215.5 L706.0,216.0 L705.5,216.5 L705.0,217.0 L704.5,217.5 L704.0,218.0 L703.5,218.6 L703.0,219.1 L702.5,219.6 L702.0,220.1 L701.5,220.6 L701.0,221.9 L700.5,224.5 L700.0,227.1 L699.5,229.7 L699.0,232.3 L698.5,235.8 L698.0,240.0 L697.5,244.1 L697.0,247.1 L696.5,249.3 L696.0,251.5 L695.5,252.8 L695.0,252.8 L694.5,252.9 L694.0,252.9 L693.5,252.9 L693.0,253.0 L692.5,253.0 L692.0,253.0 L691.5,253.0 L691.0,253.1 L690.5,253.1 L690.0,253.1 L689.5,253.2 L689.0,253.2 L688.5,253.2 L688.0,253.2 L687.5,253.3 L687.0,253.3 L686.5,253.3 L686.0,253.3 L685.5,253.4 L685.0,253.4 L684.5,253.4 L684.0,253.5 L683.5,253.5 L683.0,255.3 L682.5,258.2 L682.0,261.1 L681.5,264.4 L681.0,268.0 L680.5,271.6 L680.0,274.0 L679.5,274.5 L679.0,275.0 L678.5,275.5 L678.0,276.0 L677.5,276.5 L677.0,277.1 L676.5,278.1 L676.0,279.1 L675.5,280.1 L675.0,281.1 L674.5,282.1 L674.0,283.1 L673.5,283.9 L673.0,284.8 L672.5,285.6 L672.0,286.4 L671.5,287.2 L671.0,288.1 L670.5,288.9 L670.0,289.7 L669.5,290.6 L669.0,291.3 L668.5,292.0 L668.0,292.6 L667.5,293.3 L667.0,293.9 L666.5,294.6 L666.0,295.3 L665.5,295.9 L665.0,296.6 L664.5,297.2 L664.0,297.8 L663.5,298.3 L663.0,298.9 L662.5,299.5 L662.0,300.0 L661.5,300.6 L661.0,301.2 L660.5,301.7 L660.0,302.3 L659.5,302.9 L659.0,303.4 L658.5,304.0 L658.0,304.1 L657.5,304.2 L657.0,304.2 L656.5,304.3 L656.0,304.3 L655.5,304.3 L655.0,304.4 L654.5,304.4 L654.0,304.5 L653.5,304.5 L653.0,304.6 L652.5,304.6 L652.0,304.7 L651.5,304.7 L651.0,304.7 L650.5,304.8 L650.0,304.8 L649.5,304.9 L649.0,305.0 L648.5,305.6 L648.0,306.2 L647.5,306.8 L647.0,307.4 L646.5,308.0 L646.0,308.6 L645.5,309.1 L645.0,309.6 L644.5,309.8 L644.0,310.1 L643.5,310.3 L643.0,310.5 L642.5,310.7 L642.0,311.0 L641.5,311.2 L641.0,311.4 L640.5,311.7 L640.0,311.8 L639.5,312.0 L639.0,312.2 L638.5,312.4 L638.0,312.6 L637.5,312.7 L637.0,312.9 L636.5,313.1 L636.0,313.3 L635.5,313.5 L635.0,313.6 L634.5,313.8 L634.0,314.0 L633.5,314.2 L633.0,314.4 L632.5,314.6 L632.0,315.3 L631.5,316.0 L631.0,316.7 L630.5,317.3 L630.0,318.0 L629.5,318.7 L629.0,319.4 L628.5,320.0 L628.0,320.7 L627.5,321.4 L627.0,323.0 L626.5,325.9 L626.0,328.8 L625.5,332.1 L625.0,337.3 L624.5,342.5 L624.0,347.7 L623.5,352.5 L623.0,357.4 L622.5,362.2 L622.0,362.5 L621.5,362.8 L621.0,363.1 L620.5,363.3 L620.0,363.6 L619.5,363.9 L619.0,364.2 L618.5,364.5 L618.0,364.8 L617.5,365.1 L617.0,365.4 L616.5,365.6 L616.0,365.9 L615.5,366.1 L615.0,366.4 L614.5,366.6 L614.0,366.9 L613.5,367.1 L613.0,367.4 L612.5,367.6 L612.0,367.9 L611.5,368.1 L611.0,368.4 L610.5,368.6 L610.0,368.9 L609.5,369.1 L609.0,369.4 L608.5,369.6 L608.0,369.9 L607.5,372.0 L607.0,377.0 L606.5,382.0 L606.0,386.4 L605.5,389.8 L605.0,393.3 L604.5,396.5 L604.0,399.0 L603.5,401.5 L603.0,404.0 L602.5,406.5 L602.0,407.5 L601.5,407.5 L601.0,407.5 L600.5,407.5 L600.0,407.5 L599.5,407.5 L599.0,407.5 L598.5,407.5 L598.0,407.5 L597.5,407.5 L597.0,407.5 L596.5,407.5 L596.0,407.5 L595.5,407.5 L595.0,407.5 L594.5,407.5 L594.0,407.5 L593.5,407.5 L593.0,407.5 L592.5,407.5 L592.0,407.5 L591.5,407.5 L591.0,407.5 L590.5,407.5 L590.0,407.5 L589.5,407.5 L589.0,407.5 L588.5,407.5 L588.0,407.5 L587.5,407.5 L587.0,407.5 L586.5,407.5 L586.0,407.5 L585.5,407.5 L585.0,407.5 L584.5,407.5 L584.0,407.5 L583.5,407.5 L583.0,407.5 L582.5,407.5 L582.0,407.1 L581.5,406.6 L581.0,406.1 L580.5,405.5 L580.0,405.0 L579.5,404.5 L579.0,404.0 L578.5,403.5 L578.0,403.1 L577.5,402.6 L577.0,402.1 L576.5,401.7 L576.0,401.2 L575.5,400.8 L575.0,400.3 L574.5,400.3 L574.0,400.3 L573.5,400.3 L573.0,400.3 L572.5,400.3 L572.0,400.3 L571.5,400.3 L571.0,400.3 L570.5,400.3 L570.0,400.3 L569.5,400.3 L569.0,400.3 L568.5,400.3 L568.0,400.3 L567.5,400.3 L567.0,400.3 L566.5,400.3 L566.0,400.3 L565.5,400.3 L565.0,400.3 L564.5,400.3 L564.0,400.3 L563.5,400.3 L563.0,400.3 L562.5,400.3 L562.0,400.3 L561.5,400.3 L561.0,400.3 L560.5,400.3 L560.0,400.3 L559.5,400.3 L559.0,400.3 L558.5,400.3 L558.0,400.3 L557.5,400.3 L557.0,400.3 L556.5,400.3Z" fill="rgba(76,175,80,0.10)" stroke="none"/>
<path d="M0.0,431.8 L6.3,426.9 L15.4,429.7 L25.2,438.8 L30.8,448.6 L37.1,451.4 L42.7,448.6 L46.9,442.3 L61.6,444.4 L66.5,452.8 L67.7,461.1 L69.2,481.3 L72.3,490.7 L76.2,495.3 L82.4,503.1 L88.6,506.5 L94.9,504.7 L98.8,501.5 L101.1,496.9 L107.3,496.9 L112.0,503.1 L118.2,514.0 L124.4,521.5 L129.1,528.0 L131.8,537.0 L139.3,537.0 L141.5,527.0 L143.9,507.8 L145.4,490.7 L150.1,488.3 L154.0,479.8 L160.2,472.0 L164.9,465.8 L167.2,456.4 L171.1,448.7 L175.7,440.9 L178.8,440.1 L188.9,440.6 L192.5,435.8 L194.5,424.4 L196.9,416.7 L203.1,410.4 L206.2,403.4 L209.3,398.0 L210.9,385.6 L213.2,374.7 L215.5,370.5 L218.2,363.1 L219.8,358.4 L224.4,358.4 L227.5,360.8 L232.2,360.8 L233.7,366.2 L235.3,374.8 L240.7,375.5 L245.4,375.9 L250.0,382.3 L253.1,393.2 L256.2,399.4 L257.8,407.2 L259.5,413.4 L260.5,430.0 L261.5,445.0 L274.4,446.3 L280.6,445.6 L285.5,441.6 L292.0,433.6 L301.3,429.0 L309.1,423.5 L313.7,422.8 L316.9,429.0 L323.1,425.9 L330.0,424.0 L334.7,419.3 L339.3,414.7 L345.6,416.2 L353.3,413.1 L357.2,410.0 L358.8,399.1 L361.1,385.1 L365.8,377.3 L373.5,374.2 L379.8,373.4 L384.4,375.8 L389.1,382.0 L395.3,386.7 L400.0,389.8 L403.1,389.8 L406.2,383.5 L409.3,375.8 L412.4,369.5 L417.1,368.0 L421.8,366.4 L424.9,360.2 L428.0,354.8 L438.9,355.6 L452.9,354.8 L457.5,358.7 L467.0,358.8 L469.3,365.3 L472.4,374.7 L475.6,380.9 L478.7,387.1 L481.8,391.8 L489.4,400.0 L491.0,412.4 L493.3,417.1 L499.5,423.3 L505.8,428.8 L512.0,431.9 L515.1,429.5 L521.3,430.3 L524.4,432.7 L532.2,432.7 L536.9,431.1 L541.5,425.7 L544.6,421.0 L549.3,417.9 L552.4,409.3 L554.0,402.0 L558.8,398.5 L561.0,387.1 L565.8,380.9 L572.0,378.5 L581.3,376.2 L584.4,379.3 L590.6,381.6 L596.9,380.9 L600.0,377.8 L603.1,365.3 L604.6,351.3 L606.2,340.4 L607.7,327.2 L609.3,324.1 L614.0,324.1 L615.5,320.2 L620.2,315.6 L622.0,308.0 L624.2,287.8 L627.3,272.2 L630.4,256.7 L633.5,251.2 L638.2,247.3 L643.6,246.5 L646.0,239.5 L649.1,235.7 L656.1,234.9 L658.4,239.5 L661.5,242.7 L666.2,238.8 L671.6,233.3 L674.0,223.2 L677.4,221.7 L680.1,208.5 L681.6,195.3 L683.2,187.5 L688.6,185.2 L691.0,176.7 L695.6,172.0 L697.2,161.1 L698.8,153.3 L700.3,140.9 L701.1,134.7 L702.0,129.0 L703.5,126.5 L708.9,125.9" fill="none" stroke="#7cbf7c" stroke-width="1" stroke-opacity="0.95"/>
<path d="M0.0,401.3 L18.9,401.3 L22.4,421.3 L61.6,421.3 L65.8,426.2 L68.4,454.9 L74.7,456.4 L77.8,461.1 L80.1,461.9 L112.0,461.9 L115.9,467.3 L119.8,472.6 L135.3,472.3 L140.0,479.8 L142.3,490.7 L150.5,490.7 L153.1,484.4 L156.2,482.9 L171.8,482.1 L174.9,476.7 L178.0,474.3 L188.9,474.3 L192.0,470.4 L194.3,459.5 L196.4,452.0 L199.5,447.8 L201.0,443.9 L258.9,443.9 L262.0,440.5 L268.0,432.0 L276.4,418.1 L282.6,411.9 L335.5,411.6 L340.2,415.8 L344.9,415.3 L348.0,418.1 L354.2,420.8 L360.4,421.2 L364.2,419.3 L395.3,419.3 L400.0,417.8 L403.1,413.1 L404.7,399.1 L406.2,391.3 L412.2,390.0 L415.3,388.2 L418.4,385.5 L427.7,385.5 L432.4,381.4 L488.0,381.4 L489.5,390.2 L491.1,395.0 L493.4,400.3 L575.0,400.3 L579.0,404.0 L582.4,407.5 L602.3,407.5 L604.6,396.0 L606.2,385.0 L607.7,370.0 L617.1,365.3 L622.5,362.2 L624.1,346.7 L625.6,331.1 L627.2,321.8 L632.6,314.5 L640.4,311.7 L645.2,309.5 L649.1,304.9 L658.4,304.1 L664.6,297.1 L669.3,290.9 L674.0,283.1 L677.1,276.9 L680.2,273.8 L681.7,262.9 L683.3,253.5 L695.7,252.8 L697.3,245.8 L698.8,233.3 L701.2,220.9 L706.6,215.4 L708.9,214.4" fill="none" stroke="#f28b8b" stroke-width="1" stroke-opacity="0.95"/>
<line x1="422.3" y1="32.2" x2="1116.5" y2="32.2" stroke="#143f9f" stroke-width="1.6"/>
<line x1="422.3" y1="139.9" x2="1116.5" y2="139.9" stroke="#143f9f" stroke-width="1.6"/>
<line x1="422.3" y1="206.5" x2="1116.5" y2="206.5" stroke="#1616e8" stroke-width="1.6"/>
<line x1="422.3" y1="260.4" x2="1116.5" y2="260.4" stroke="#143f9f" stroke-width="1.6"/>
<line x1="422.3" y1="314.3" x2="1116.5" y2="314.3" stroke="#143f9f" stroke-width="1.6"/>
<line x1="422.3" y1="390.9" x2="1116.5" y2="390.9" stroke="#143f9f" stroke-width="1.6"/>
<line x1="422.3" y1="436.6" x2="1116.5" y2="436.6" stroke="#143f9f" stroke-width="1.6"/>
<line x1="422.3" y1="488.6" x2="1116.5" y2="488.6" stroke="#143f9f" stroke-width="1.6"/>
<path d="M1.4,507.5V560.1M4.0,536.8V544.9M6.6,536.8V553.0M9.2,514.6V544.9M11.9,479.2V524.7M14.5,478.2V521.7M17.1,496.4V521.7M19.8,514.6V536.8M22.4,499.4V533.8M25.0,489.3V532.8M27.7,497.4V510.5M30.3,486.3V505.5M32.9,460.4V493.4M35.6,468.1V487.3M38.2,468.1V503.5M40.8,500.4V549.0M43.5,539.9V559.1M46.1,537.8V567.2M48.7,555.0V576.3M51.3,545.9V582.3M54.0,547.9V573.2M56.6,553.0V579.3M59.2,552.0V570.2M61.9,557.0V573.2M64.5,525.7V570.2M67.1,528.7V561.1M69.8,529.8V552.0M72.4,513.0V538.9M75.0,474.2V523.7M77.7,400.3V483.2M80.3,419.8V444.7M82.9,408.1V451.6M85.5,385.6V440.0M88.2,381.7V422.1M90.8,393.3V432.2M93.4,402.7V443.9M96.1,415.1V446.2M98.7,416.7V440.8M101.3,401.1V431.4M104.0,394.1V429.9M106.6,371.6V428.3M109.2,366.2V395.7M111.9,378.6V395.7M114.5,378.6V416.7M117.1,408.9V447.8M119.8,415.9V454.0M122.4,387.1V424.4M125.0,358.4V391.8M127.6,320.3V411.2M130.3,332.0V365.4M132.9,305.6V340.5M135.5,305.6V353.0M138.2,337.4V360.8M140.8,323.4V360.0M143.4,313.3V339.8M146.1,321.1V344.4M148.7,320.3V339.8M151.3,332.0V355.3M154.0,343.7V367.8M156.6,325.0V348.3M159.2,342.1V364.7M161.8,332.8V363.1M164.5,334.3V359.2M167.1,353.0V419.0M169.7,398.0V415.1M172.4,391.8V411.2M175.0,382.4V406.5M177.6,362.3V388.7M180.3,338.2V437.7M182.9,425.2V451.6M185.5,435.4V477.4M188.2,455.7V486.8M190.8,463.4V489.9M193.4,482.1V518.6M196.0,501.5V515.5M198.7,483.7V510.1M201.3,465.8V498.4M203.9,447.9V476.7M206.6,437.8V456.4M209.2,437.0V469.7M211.8,432.3V463.4M214.5,418.1V439.9M217.1,419.7V438.3M219.7,403.3V432.1M222.4,399.4V432.1M225.0,422.0V457.2M227.6,427.4V455.7M230.3,408.0V433.6M232.9,402.5V420.4M235.5,394.0V414.2M238.1,378.4V413.4M240.8,373.0V391.7M243.4,382.3V401.0M246.0,393.2V431.3M248.7,429.0V444.8M251.3,398.7V429.8M253.9,394.8V412.7M256.6,386.2V404.9M259.2,372.2V399.4M261.8,384.7V410.3M264.5,404.1V415.0M267.1,404.9V419.7M269.7,417.3V446.1M272.3,422.8V449.4M275.0,407.2V425.9M277.6,393.2V413.4M280.2,390.1V407.2M282.9,375.3V411.1M285.5,368.3V390.1M288.1,373.0V389.3M290.8,345.1V377.0M293.4,321.0V349.8M296.0,329.5V356.8M298.7,352.1V377.8M301.3,357.5V390.2M303.9,384.0V401.1M306.6,365.3V390.2M309.2,364.5V387.1M311.8,382.4V399.5M314.4,382.4V398.8M317.1,379.3V398.0M319.7,371.5V394.9M322.3,373.1V391.0M325.0,370.8V394.9M327.6,383.9V417.3M330.2,403.3V422.8M332.9,388.5V408.8M335.5,363.0V391.8M338.1,347.4V366.9M340.8,331.9V362.2M343.4,331.9V349.8M346.0,314.0V345.9M348.6,324.9V346.7M351.3,330.3V363.8M353.9,317.9V359.1M356.5,326.4V353.7M359.2,335.0V367.7M361.8,335.0V359.9M364.4,343.5V362.2M367.1,327.2V363.8M369.7,321.8V352.1M372.3,328.8V352.9M375.0,314.8V346.7M377.6,322.6V339.7M380.2,338.9V356.8M382.9,348.2V368.4M385.5,347.4V365.3M388.1,351.3V382.4M390.7,362.2V384.8M393.4,363.0V378.5M396.0,365.3V377.8M398.6,359.9V391.0M401.3,383.2V401.9M403.9,393.3V415.1M406.5,400.0V421.8M409.2,398.4V422.6M411.8,414.8V443.5M414.4,425.7V443.5M417.1,429.5V449.8M419.7,438.1V449.0M422.3,441.2V488.6M424.9,447.4V468.4M427.6,442.0V461.4M430.2,451.3V462.2M432.8,442.0V463.0M435.5,443.5V459.9M438.1,449.8V470.0M440.7,445.9V466.1M443.4,431.1V468.4M446.0,425.7V438.1M448.6,416.3V436.5M451.3,421.8V442.8M453.9,424.1V446.7M456.5,432.7V456.8M459.1,428.0V442.8M461.8,428.8V443.5M464.4,411.7V435.0M467.0,411.7V422.6M469.7,397.2V422.9M472.3,384.0V408.9M474.9,370.0V388.6M477.6,372.3V387.1M480.2,376.2V387.9M482.8,365.3V388.6M485.5,347.4V372.3M488.1,352.9V366.9M490.7,350.5V367.7M493.4,330.3V352.9M496.0,342.0V377.8M498.6,359.9V385.5M501.2,360.7V377.0M503.9,352.1V371.5M506.5,348.2V380.1M509.1,371.5V385.5M511.8,359.9V377.8M514.4,375.4V390.2M517.0,379.3V398.0M519.7,370.0V398.0M522.3,376.2V393.3M524.9,366.1V388.6M527.6,379.3V394.9M530.2,363.0V384.8M532.8,328.8V365.3M535.4,320.2V352.9M538.1,276.1V334.2M540.7,252.0V287.8M543.3,254.3V301.0M546.0,262.9V297.1M548.6,241.1V286.2M551.2,257.4V275.3M553.9,244.2V286.2M556.5,192.2V255.1M559.1,172.0V218.6M561.8,176.7V207.8M564.4,153.3V184.4M567.0,154.1V199.2M569.7,180.5V214.8M572.3,186.8V215.5M574.9,171.2V212.4M577.5,184.4V236.4M580.2,187.5V223.3M582.8,203.1V222.5M585.4,186.0V220.2M588.1,187.5V214.8M590.7,188.3V238.8M593.3,223.2V248.1M596.0,219.3V238.8M598.6,229.4V243.4M601.2,215.4V240.3M603.9,212.3V238.8M606.5,216.2V225.6M609.1,189.1V220.2M611.7,156.4V193.0M614.4,108.1V169.5M617.0,149.4V171.2M619.6,138.4V163.3M622.3,125.2V147.8M624.9,123.7V161.8M627.5,129.9V149.3M630.2,76.1V137.0M632.8,42.7V149.4M635.4,40.3V139.5M638.1,31.0V197.7M640.7,138.9V181.8" stroke="#1f1f1f" stroke-width="1" fill="none" stroke-opacity="0.9"/>
<path d="M8.10,524.7h2.3V541.9h-2.3ZM10.73,485.3h2.3V524.7h-2.3ZM21.25,505.5h2.3V530.8h-2.3ZM23.89,497.4h2.3V505.5h-2.3ZM29.15,490.3h2.3V504.9h-2.3ZM31.78,472.5h2.3V493.4h-2.3ZM50.20,547.9h2.3V572.2h-2.3ZM58.09,557.0h2.3V565.1h-2.3ZM63.35,533.8h2.3V570.2h-2.3ZM68.61,537.8h2.3V546.9h-2.3ZM71.24,521.7h2.3V538.9h-2.3ZM73.87,475.2h2.3V522.7h-2.3ZM76.50,421.8h2.3V476.2h-2.3ZM84.40,405.5h2.3V433.8h-2.3ZM89.66,406.5h2.3V411.2h-2.3ZM94.92,435.3h2.3V439.2h-2.3ZM97.55,418.2h2.3V435.3h-2.3ZM105.45,374.7h2.3V426.0h-2.3ZM118.60,415.9h2.3V442.3h-2.3ZM121.23,391.0h2.3V415.9h-2.3ZM123.86,370.1h2.3V391.8h-2.3ZM126.49,356.9h2.3V370.9h-2.3ZM129.12,335.1h2.3V356.9h-2.3ZM131.76,314.1h2.3V335.9h-2.3ZM139.65,326.5h2.3V351.4h-2.3ZM147.54,334.3h2.3V339.8h-2.3ZM152.80,348.3h2.3V353.0h-2.3ZM155.43,346.0h2.3V348.3h-2.3ZM160.70,339.8h2.3V361.5h-2.3ZM171.22,405.8h2.3V410.4h-2.3ZM173.85,388.7h2.3V405.8h-2.3ZM176.48,365.4h2.3V388.7h-2.3ZM197.53,493.8h2.3V510.1h-2.3ZM200.16,475.9h2.3V493.8h-2.3ZM202.79,454.9h2.3V476.7h-2.3ZM205.42,444.8h2.3V455.7h-2.3ZM210.69,436.2h2.3V461.1h-2.3ZM213.32,424.3h2.3V436.8h-2.3ZM215.95,424.3h2.3V425.9h-2.3ZM218.58,406.4h2.3V425.9h-2.3ZM226.47,429.8h2.3V450.2h-2.3ZM229.10,417.3h2.3V429.8h-2.3ZM231.73,411.9h2.3V417.3h-2.3ZM234.36,403.3h2.3V411.9h-2.3ZM237.00,379.2h2.3V404.9h-2.3ZM250.15,407.2h2.3V429.8h-2.3ZM252.78,397.1h2.3V407.2h-2.3ZM255.41,387.0h2.3V397.1h-2.3ZM271.20,425.9h2.3V442.2h-2.3ZM273.83,408.8h2.3V425.9h-2.3ZM276.46,394.8h2.3V409.5h-2.3ZM281.72,378.4h2.3V404.9h-2.3ZM286.99,376.9h2.3V382.3h-2.3ZM289.62,348.2h2.3V377.0h-2.3ZM292.25,330.3h2.3V349.0h-2.3ZM305.40,366.1h2.3V389.4h-2.3ZM315.93,390.2h2.3V394.9h-2.3ZM318.56,373.9h2.3V390.2h-2.3ZM329.08,407.2h2.3V413.4h-2.3ZM331.71,390.1h2.3V407.2h-2.3ZM334.34,366.1h2.3V390.2h-2.3ZM336.97,352.1h2.3V366.9h-2.3ZM339.61,337.3h2.3V353.7h-2.3ZM344.87,328.0h2.3V342.0h-2.3ZM352.76,330.3h2.3V356.0h-2.3ZM365.92,328.8h2.3V357.5h-2.3ZM371.18,341.2h2.3V348.2h-2.3ZM373.81,331.1h2.3V341.2h-2.3ZM384.33,353.7h2.3V356.8h-2.3ZM389.59,367.7h2.3V376.2h-2.3ZM394.86,370.8h2.3V376.2h-2.3ZM405.38,407.0h2.3V408.6h-2.3ZM423.80,448.2h2.3V466.9h-2.3ZM439.58,445.9h2.3V460.7h-2.3ZM442.21,435.0h2.3V450.5h-2.3ZM444.84,431.1h2.3V438.1h-2.3ZM447.48,424.9h2.3V431.1h-2.3ZM455.37,435.0h2.3V445.9h-2.3ZM458.00,433.4h2.3V435.8h-2.3ZM463.26,412.4h2.3V435.0h-2.3ZM468.52,406.5h2.3V422.1h-2.3ZM471.15,384.8h2.3V407.3h-2.3ZM473.79,381.6h2.3V385.5h-2.3ZM476.42,379.3h2.3V382.4h-2.3ZM481.68,366.1h2.3V384.8h-2.3ZM484.31,353.7h2.3V366.9h-2.3ZM489.57,352.1h2.3V358.3h-2.3ZM492.20,345.1h2.3V352.1h-2.3ZM497.46,370.0h2.3V375.4h-2.3ZM500.10,366.9h2.3V370.8h-2.3ZM502.73,358.3h2.3V367.7h-2.3ZM515.88,380.9h2.3V389.4h-2.3ZM521.14,380.9h2.3V387.9h-2.3ZM526.41,380.1h2.3V387.9h-2.3ZM529.04,363.8h2.3V380.9h-2.3ZM531.67,335.0h2.3V364.5h-2.3ZM534.30,333.4h2.3V335.8h-2.3ZM536.93,286.2h2.3V334.2h-2.3ZM539.56,277.7h2.3V286.2h-2.3ZM544.82,272.2h2.3V286.2h-2.3ZM547.45,264.4h2.3V272.2h-2.3ZM552.72,251.2h2.3V269.9h-2.3ZM555.35,206.2h2.3V252.0h-2.3ZM557.98,189.9h2.3V206.2h-2.3ZM560.61,178.2h2.3V189.9h-2.3ZM571.13,187.5h2.3V211.6h-2.3ZM576.39,198.4h2.3V203.9h-2.3ZM581.66,206.2h2.3V211.6h-2.3ZM584.29,198.4h2.3V210.9h-2.3ZM586.92,189.1h2.3V198.4h-2.3ZM592.18,227.9h2.3V236.4h-2.3ZM597.44,231.8h2.3V233.3h-2.3ZM602.70,221.7h2.3V235.7h-2.3ZM605.34,220.1h2.3V222.4h-2.3ZM607.97,192.2h2.3V220.2h-2.3ZM610.60,157.2h2.3V193.0h-2.3ZM613.23,149.3h2.3V157.9h-2.3ZM618.49,141.5h2.3V154.8h-2.3ZM621.12,126.0h2.3V142.3h-2.3ZM626.38,131.4h2.3V143.1h-2.3ZM629.01,80.8h2.3V132.2h-2.3ZM634.28,55.1h2.3V129.1h-2.3ZM639.54,164.0h2.3V177.4h-2.3Z" fill="#2a7a14"/>
<path d="M0.21,507.5h2.3V537.8h-2.3ZM2.84,537.8h2.3V540.9h-2.3ZM5.47,539.9h2.3V541.9h-2.3ZM13.36,485.3h2.3V513.6h-2.3ZM15.99,507.9h2.3V516.6h-2.3ZM18.62,514.6h2.3V530.8h-2.3ZM26.52,498.4h2.3V504.9h-2.3ZM34.41,472.5h2.3V483.3h-2.3ZM37.04,482.2h2.3V502.5h-2.3ZM39.67,500.4h2.3V545.9h-2.3ZM42.30,544.9h2.3V551.0h-2.3ZM44.93,551.0h2.3V556.0h-2.3ZM47.56,555.0h2.3V572.2h-2.3ZM52.83,547.9h2.3V565.1h-2.3ZM55.46,558.1h2.3V565.1h-2.3ZM60.72,557.0h2.3V570.2h-2.3ZM65.98,533.8h2.3V546.9h-2.3ZM79.14,421.3h2.3V430.7h-2.3ZM81.77,430.7h2.3V434.5h-2.3ZM87.03,405.5h2.3V412.0h-2.3ZM92.29,406.5h2.3V439.2h-2.3ZM100.18,419.8h2.3V426.0h-2.3ZM102.81,424.4h2.3V426.8h-2.3ZM108.08,374.7h2.3V380.1h-2.3ZM110.71,380.1h2.3V392.6h-2.3ZM113.34,392.6h2.3V408.9h-2.3ZM115.97,408.9h2.3V442.3h-2.3ZM134.39,314.1h2.3V338.2h-2.3ZM137.02,338.2h2.3V351.4h-2.3ZM142.28,326.5h2.3V339.8h-2.3ZM144.91,338.2h2.3V340.1h-2.3ZM150.17,334.3h2.3V353.0h-2.3ZM158.07,346.8h2.3V361.5h-2.3ZM163.33,337.4h2.3V356.9h-2.3ZM165.96,356.1h2.3V408.9h-2.3ZM168.59,405.0h2.3V409.7h-2.3ZM179.11,364.6h2.3V429.9h-2.3ZM181.74,429.9h2.3V447.0h-2.3ZM184.38,445.6h2.3V466.5h-2.3ZM187.01,466.5h2.3V472.0h-2.3ZM189.64,471.2h2.3V486.8h-2.3ZM192.27,486.8h2.3V507.8h-2.3ZM194.90,507.8h2.3V510.9h-2.3ZM208.05,444.8h2.3V461.1h-2.3ZM221.21,406.4h2.3V424.3h-2.3ZM223.84,424.3h2.3V450.2h-2.3ZM239.63,379.2h2.3V383.1h-2.3ZM242.26,383.1h2.3V397.1h-2.3ZM244.89,396.3h2.3V429.8h-2.3ZM247.52,429.8h2.3V432.1h-2.3ZM258.04,386.2h2.3V397.9h-2.3ZM260.68,397.9h2.3V407.2h-2.3ZM263.31,404.9h2.3V407.2h-2.3ZM265.94,407.2h2.3V419.7h-2.3ZM268.57,419.7h2.3V443.0h-2.3ZM279.09,394.8h2.3V403.3h-2.3ZM284.35,378.4h2.3V382.3h-2.3ZM294.88,330.3h2.3V352.9h-2.3ZM297.51,352.9h2.3V372.3h-2.3ZM300.14,372.3h2.3V386.3h-2.3ZM302.77,386.3h2.3V389.4h-2.3ZM308.03,366.1h2.3V386.3h-2.3ZM310.66,386.3h2.3V391.8h-2.3ZM313.30,391.8h2.3V394.9h-2.3ZM321.19,373.9h2.3V379.3h-2.3ZM323.82,379.3h2.3V384.0h-2.3ZM326.45,383.9h2.3V413.4h-2.3ZM342.24,337.3h2.3V343.5h-2.3ZM347.50,327.2h2.3V342.0h-2.3ZM350.13,341.2h2.3V356.0h-2.3ZM355.39,329.5h2.3V345.1h-2.3ZM358.02,344.3h2.3V351.3h-2.3ZM360.65,349.0h2.3V351.3h-2.3ZM363.28,349.8h2.3V358.3h-2.3ZM368.55,328.8h2.3V347.4h-2.3ZM376.44,331.1h2.3V339.7h-2.3ZM379.07,338.9h2.3V349.8h-2.3ZM381.70,349.0h2.3V356.8h-2.3ZM386.96,353.7h2.3V376.2h-2.3ZM392.23,367.7h2.3V376.2h-2.3ZM397.49,370.8h2.3V389.4h-2.3ZM400.12,389.4h2.3V394.9h-2.3ZM402.75,394.1h2.3V408.9h-2.3ZM408.01,407.0h2.3V419.4h-2.3ZM410.64,418.7h2.3V427.2h-2.3ZM413.27,427.2h2.3V433.4h-2.3ZM415.90,432.7h2.3V441.2h-2.3ZM418.53,441.2h2.3V443.5h-2.3ZM421.17,442.8h2.3V466.1h-2.3ZM426.43,448.2h2.3V452.9h-2.3ZM429.06,452.1h2.3V456.8h-2.3ZM431.69,456.0h2.3V458.8h-2.3ZM434.32,456.8h2.3V459.1h-2.3ZM436.95,453.7h2.3V460.7h-2.3ZM450.11,424.9h2.3V426.4h-2.3ZM452.74,425.7h2.3V445.9h-2.3ZM460.63,432.7h2.3V434.5h-2.3ZM465.89,412.4h2.3V421.8h-2.3ZM479.05,379.3h2.3V384.8h-2.3ZM486.94,353.7h2.3V358.3h-2.3ZM494.83,345.9h2.3V375.4h-2.3ZM505.36,358.3h2.3V376.2h-2.3ZM507.99,375.4h2.3V377.0h-2.3ZM510.62,376.2h2.3V377.8h-2.3ZM513.25,377.0h2.3V389.4h-2.3ZM518.51,380.9h2.3V387.9h-2.3ZM523.77,380.9h2.3V387.9h-2.3ZM542.19,277.7h2.3V286.2h-2.3ZM550.08,264.4h2.3V269.9h-2.3ZM563.24,179.0h2.3V184.4h-2.3ZM565.87,183.7h2.3V196.9h-2.3ZM568.50,196.1h2.3V211.6h-2.3ZM573.76,187.5h2.3V203.9h-2.3ZM579.03,197.7h2.3V211.6h-2.3ZM589.55,189.1h2.3V236.4h-2.3ZM594.81,227.9h2.3V233.3h-2.3ZM600.07,232.6h2.3V235.7h-2.3ZM615.86,150.2h2.3V154.9h-2.3ZM623.75,126.0h2.3V143.1h-2.3ZM631.65,80.8h2.3V131.4h-2.3ZM636.91,55.9h2.3V177.4h-2.3Z" fill="#ff0000"/>
<path d="M0.8,465.0 L4.7,476.7 L9.3,491.4 L11.7,493.0 L43.5,493.0 L45.1,500.0 L49.8,512.4 L56.0,517.1 L59.1,521.0 L73.1,521.0 L74.7,507.8 L76.2,495.3 L84.0,487.5 L88.6,482.9 L103.4,482.1 L107.3,475.9 L121.3,473.5 L125.3,457.1 L128.4,444.7 L133.1,433.8 L137.8,422.9 L140.9,408.9 L143.2,393.3 L144.8,384.0 L148.6,379.6 L182.9,379.6 L186.0,388.7 L189.1,396.4 L192.2,403.4 L193.7,410.7 L195.3,412.0 L200.7,412.3 L203.1,415.1 L209.3,415.9 L211.6,419.8 L224.9,420.1 L231.1,428.3 L243.5,428.3 L245.6,430.0 L248.0,444.0 L258.9,444.8 L262.0,440.9 L267.1,436.8 L273.3,432.1 L279.5,417.3 L282.6,413.4 L288.9,411.1 L292.0,394.8 L294.8,385.4 L337.3,385.4 L340.5,377.8 L345.1,368.3 L387.3,368.1 L395.1,365.3 L400.5,358.3 L404.4,365.3 L409.2,368.6 L410.9,378.9 L414.0,382.8 L420.2,382.8 L421.8,397.5 L426.4,398.3 L438.9,400.7 L443.5,407.5 L448.2,415.2 L454.0,421.4 L461.5,424.4 L464.5,428.0 L468.4,439.2 L471.5,437.6 L474.7,429.5 L480.9,428.3 L484.0,422.8 L488.6,415.6 L491.8,406.2 L493.3,400.0 L500.0,396.0 L510.0,391.0 L520.0,386.0 L530.0,381.0 L533.1,377.8 L536.2,362.2 L537.8,343.5 L540.1,328.0 L542.4,325.7 L547.1,323.3 L550.2,319.4 L553.3,319.4 L554.9,309.3 L556.5,294.0 L558.9,286.2 L562.0,284.7 L565.1,276.9 L585.3,276.1 L594.7,273.0 L597.8,261.3 L602.4,248.9 L604.8,238.0 L607.1,228.7 L611.8,224.8 L613.3,204.6 L614.0,197.7 L620.2,196.9 L621.8,189.1 L624.9,178.2 L628.0,178.2 L629.5,167.3 L631.1,154.9 L632.6,148.7 L637.3,140.9 L641.2,139.7" fill="none" stroke="#a83232" stroke-width="1" stroke-opacity="0.85" stroke-linejoin="round"/>
<path d="M1.0,503.5 L9.1,504.9 L12.1,511.6 L16.2,518.6 L20.2,519.6 L25.3,516.6 L30.3,508.5 L32.3,500.4 L37.4,499.4 L40.4,505.5 L46.5,513.6 L52.6,520.7 L59.6,525.7 L61.7,540.9 L64.7,553.0 L68.7,554.0 L72.8,546.9 L74.8,526.7 L75.8,500.4 L78.9,488.3 L84.9,482.2 L90.0,470.1 L93.4,458.6 L96.5,443.1 L98.9,430.7 L102.0,419.8 L105.1,411.2 L108.2,406.5 L114.4,406.5 L119.1,408.9 L122.2,411.2 L125.3,401.1 L126.9,388.7 L130.0,385.6 L131.5,380.1 L140.1,379.6 L142.0,370.9 L144.3,361.5 L146.7,358.4 L149.0,358.1 L150.5,352.2 L151.3,335.1 L154.4,336.7 L159.1,339.8 L164.5,340.5 L166.1,355.3 L167.7,369.3 L171.5,371.6 L177.0,372.1 L179.3,380.2 L182.1,391.8 L184.4,397.2 L189.1,410.4 L192.2,421.3 L194.5,428.3 L200.7,428.8 L201.5,435.3 L202.1,445.6 L202.9,461.1 L204.4,473.5 L207.5,477.4 L211.4,475.1 L213.8,468.9 L216.9,465.8 L220.0,458.0 L223.1,448.7 L226.2,437.8 L231.3,432.1 L234.4,422.8 L239.1,415.8 L248.4,415.0 L251.5,407.2 L267.1,407.2 L271.8,411.1 L285.8,410.3 L292.0,397.9 L295.1,382.3 L299.8,368.3 L304.4,362.1 L313.7,361.3 L318.4,369.9 L321.5,377.7 L326.2,388.5 L330.9,396.3 L335.5,390.9 L341.7,380.0 L346.4,372.2 L351.1,366.8 L355.7,359.0 L358.8,351.2 L359.3,340.7 L370.2,341.7 L376.4,340.1 L385.8,341.2 L388.1,348.2 L395.9,349.5 L399.8,356.0 L402.9,373.1 L406.0,384.0 L409.1,388.6 L410.9,400.0 L417.1,404.7 L420.2,409.3 L421.0,423.3 L422.6,436.5 L427.2,441.2 L431.1,446.7 L433.4,452.9 L437.3,458.3 L441.2,462.2 L443.5,457.5 L445.1,449.8 L449.8,443.5 L462.2,442.0 L466.9,435.8 L470.8,426.4 L474.7,417.1 L477.8,410.9 L480.9,404.7 L487.2,390.2 L491.1,384.0 L493.4,366.9 L495.8,359.9 L503.5,358.8 L511.3,357.9 L514.4,362.2 L517.5,370.0 L522.2,373.9 L528.4,374.3 L531.5,368.4 L534.7,360.7 L537.0,346.7 L538.5,331.1 L540.9,324.9 L545.5,323.3 L549.4,318.7 L551.8,314.0 L553.3,304.7 L554.2,294.0 L557.3,269.1 L560.4,244.2 L563.5,230.2 L569.8,220.1 L574.4,219.3 L575.1,218.6 L578.2,198.4 L580.5,196.1 L587.5,195.3 L589.9,206.2 L593.8,209.3 L598.4,215.5 L603.1,217.9 L609.3,217.1 L612.4,196.9 L614.0,178.2 L618.6,175.1 L623.3,172.0 L628.0,164.2 L630.3,153.3 L631.4,144.7 L633.0,132.2 L634.5,108.9 L635.6,106.5 L637.7,114.3 L641.2,115.0" fill="none" stroke="#2f9bf0" stroke-width="1" stroke-linejoin="round"/>
<path d="M0.0,410.1 L14.0,419.2 L28.0,427.6 L42.0,434.6 L56.0,441.6 L70.0,450.7 L84.0,456.3 L98.0,458.4 L112.0,459.1 L126.0,460.5 L140.0,458.6 L153.3,454.8 L165.8,450.1 L175.1,447.3 L182.9,447.0 L193.5,449.4 L202.9,451.0 L212.2,451.0 L221.5,450.2 L230.9,449.0 L240.2,446.8 L249.5,444.8 L260.9,441.4 L273.3,436.8 L285.8,431.3 L298.2,424.3 L310.6,415.8 L320.0,410.3 L329.3,405.0 L338.6,400.0 L345.6,396.0 L361.1,391.3 L376.7,388.2 L386.0,386.9 L395.3,388.2 L404.7,391.3 L414.9,394.9 L427.3,398.8 L439.8,399.9 L452.2,399.5 L464.7,397.2 L477.1,394.9 L489.5,393.3 L502.0,391.8 L514.4,389.9 L526.9,387.9 L537.8,384.0 L547.1,380.1 L556.4,376.2 L568.9,368.4 L581.3,359.9 L593.7,352.1 L606.2,344.3 L618.6,335.0 L631.1,325.7 L641.2,318.6" fill="none" stroke="#ff6d00" stroke-width="1.1" stroke-linejoin="round"/>
<path d="M0.0,262.0 L14.9,274.9 L29.9,289.8 L44.8,302.3 L59.8,317.2 L74.7,329.7 L89.6,338.4 L104.6,347.1 L119.5,354.6 L134.4,363.3 L149.4,373.2 L164.3,383.2 L179.3,393.2 L187.8,400.3 L195.6,406.2 L203.3,411.2 L211.1,415.5 L220.4,419.2 L229.8,421.3 L242.2,422.3 L254.6,422.8 L264.0,424.3 L273.3,426.3 L285.8,426.7 L304.4,426.2 L320.0,425.9 L335.5,425.6 L351.1,425.4 L367.0,425.1 L390.0,424.4 L421.1,424.7 L452.2,424.4 L464.7,424.7 L470.9,424.1 L480.9,421.8 L493.3,419.4 L505.8,417.4 L518.2,415.6 L530.6,412.4 L540.0,408.6 L549.3,404.7 L558.0,400.0 L568.9,393.3 L581.3,386.3 L593.7,379.3 L606.2,372.3 L618.6,366.1 L631.1,359.1 L641.2,354.2" fill="none" stroke="#43a047" stroke-width="2.6" stroke-linejoin="round" stroke-linecap="round"/>
<path d="M0.0,364.0 L14.9,372.0 L29.9,378.2 L44.8,386.9 L59.8,396.9 L67.8,401.1 L75.6,404.2 L84.9,405.5 L106.7,406.1 L122.2,405.8 L134.7,403.4 L147.1,400.3 L159.5,398.0 L172.0,397.4 L179.8,396.9 L187.8,400.2 L195.6,403.3 L204.9,405.3 L218.9,406.1 L242.2,406.4 L260.9,406.1 L273.3,406.7 L285.8,405.7 L298.2,403.6 L310.6,402.1 L323.1,400.7 L335.5,399.0 L348.0,397.1 L354.7,396.2 L367.1,393.3 L379.5,391.4 L392.0,390.2 L401.3,390.2 L412.2,391.6 L421.1,394.4 L436.7,398.0 L452.2,400.3 L464.7,401.4 L477.1,400.8 L489.5,398.8 L502.0,397.2 L514.4,396.4 L526.9,395.7 L536.2,394.1 L545.5,390.2 L554.9,384.8 L564.2,378.6 L572.0,372.3 L584.4,364.5 L596.9,358.3 L609.3,350.5 L621.7,342.0 L631.1,335.0 L641.2,328.2" fill="none" stroke="#8b1414" stroke-width="1.8" stroke-linejoin="round"/>
<path d="M0.0,439.6 L7.8,447.1 L15.6,454.9 L23.3,460.3 L31.1,463.4 L35.8,464.2 L42.0,470.4 L49.8,479.8 L57.5,488.3 L65.3,494.5 L71.5,497.7 L76.2,496.6 L80.9,491.4 L87.1,485.2 L93.3,480.5 L101.1,475.1 L105.1,470.0 L114.4,461.8 L122.2,455.5 L128.4,447.8 L134.7,436.9 L142.4,427.5 L150.2,418.2 L158.0,410.4 L162.6,407.3 L168.9,407.0 L173.5,405.8 L178.2,404.5 L182.9,407.3 L186.2,411.9 L192.4,418.9 L198.7,424.3 L206.4,427.1 L214.2,427.7 L223.5,428.2 L231.3,426.6 L239.1,423.5 L248.4,420.9 L257.8,418.9 L267.1,418.1 L276.4,416.9 L285.8,413.4 L295.1,406.4 L304.4,402.5 L313.7,400.7 L321.0,399.2 L329.0,397.6 L336.0,394.9 L345.3,390.2 L354.7,384.8 L364.0,379.3 L373.3,374.7 L382.6,371.5 L392.0,371.2 L399.3,373.1 L408.7,377.8 L418.0,385.6 L427.3,393.3 L436.7,399.5 L446.0,405.0 L455.3,408.9 L463.1,411.2 L469.3,411.2 L477.1,408.1 L486.4,402.7 L495.8,398.0 L505.1,394.1 L514.4,391.5 L523.7,390.2 L531.5,388.7 L537.7,383.2 L543.2,376.2 L547.1,371.5 L553.3,362.2 L559.5,349.8 L565.8,335.8 L572.0,324.9 L578.2,314.0 L583.5,305.4 L587.5,299.6 L594.7,292.4 L602.4,287.0 L608.6,281.5 L614.9,272.2 L621.1,261.3 L627.3,249.7 L632.0,241.1 L635.9,233.3 L641.3,228.5" fill="none" stroke="#ff9800" stroke-width="2.6" stroke-linejoin="round" stroke-linecap="round"/>
<line x1="272.1" y1="449.4" x2="301.3" y2="352" stroke="#0a0aff" stroke-width="1.8"/>
<line x1="606.2" y1="133.6" x2="638.4" y2="19.4" stroke="#5a22c8" stroke-width="1.6"/>
<line x1="604" y1="236.5" x2="643.6" y2="124.4" stroke="#f21818" stroke-width="1.6"/>
<rect x="1118.0" y="0" width="87.5" height="643" fill="#fff"/>
<rect x="0" y="613.7" width="1205" height="29.799999999999955" fill="#fff"/>
<line x1="1117.5" y1="0" x2="1117.5" y2="643" stroke="#5c5c5c" stroke-width="1"/>
<line x1="0" y1="613.2" x2="1200" y2="613.2" stroke="#5c5c5c" stroke-width="1"/>
<line x1="1117.5" y1="579.2" x2="1121.0" y2="579.2" stroke="#5c5c5c" stroke-width="1"/>
<line x1="1117.5" y1="537.3" x2="1121.0" y2="537.3" stroke="#5c5c5c" stroke-width="1"/>
<line x1="1117.5" y1="495.4" x2="1121.0" y2="495.4" stroke="#5c5c5c" stroke-width="1"/>
<line x1="1117.5" y1="453.5" x2="1121.0" y2="453.5" stroke="#5c5c5c" stroke-width="1"/>
<line x1="1117.5" y1="411.6" x2="1121.0" y2="411.6" stroke="#5c5c5c" stroke-width="1"/>
<line x1="1117.5" y1="369.7" x2="1121.0" y2="369.7" stroke="#5c5c5c" stroke-width="1"/>
<line x1="1117.5" y1="327.8" x2="1121.0" y2="327.8" stroke="#5c5c5c" stroke-width="1"/>
<line x1="1117.5" y1="285.9" x2="1121.0" y2="285.9" stroke="#5c5c5c" stroke-width="1"/>
<line x1="1117.5" y1="244.0" x2="1121.0" y2="244.0" stroke="#5c5c5c" stroke-width="1"/>
<line x1="1117.5" y1="202.1" x2="1121.0" y2="202.1" stroke="#5c5c5c" stroke-width="1"/>
<line x1="1117.5" y1="160.2" x2="1121.0" y2="160.2" stroke="#5c5c5c" stroke-width="1"/>
<line x1="1117.5" y1="118.3" x2="1121.0" y2="118.3" stroke="#5c5c5c" stroke-width="1"/>
<line x1="1117.5" y1="76.4" x2="1121.0" y2="76.4" stroke="#5c5c5c" stroke-width="1"/>
<line x1="1117.5" y1="34.5" x2="1121.0" y2="34.5" stroke="#5c5c5c" stroke-width="1"/>
<line x1="65.4" y1="613.2" x2="65.4" y2="616.2" stroke="#5c5c5c" stroke-width="1"/>
<line x1="201.8" y1="613.2" x2="201.8" y2="616.2" stroke="#5c5c5c" stroke-width="1"/>
<line x1="338.6" y1="613.2" x2="338.6" y2="616.2" stroke="#5c5c5c" stroke-width="1"/>
<line x1="478.5" y1="613.2" x2="478.5" y2="616.2" stroke="#5c5c5c" stroke-width="1"/>
<line x1="615.3" y1="613.2" x2="615.3" y2="616.2" stroke="#5c5c5c" stroke-width="1"/>
<line x1="752.1" y1="613.2" x2="752.1" y2="616.2" stroke="#5c5c5c" stroke-width="1"/>
<line x1="888.7" y1="613.2" x2="888.7" y2="616.2" stroke="#5c5c5c" stroke-width="1"/>
<line x1="1026.3" y1="613.2" x2="1026.3" y2="616.2" stroke="#5c5c5c" stroke-width="1"/></svg>
<div style="position:absolute;left:0;top:0;width:1200px;height:1px;background:#e3e4ea"></div>
<div class="t pl" style="top:572.4px">1050.000</div>
<div class="t pl" style="top:530.5px">1100.000</div>
<div class="t pl" style="top:488.6px">1150.000</div>
<div class="t pl" style="top:446.7px">1200.000</div>
<div class="t pl" style="top:404.8px">1250.000</div>
<div class="t pl" style="top:362.9px">1300.000</div>
<div class="t pl" style="top:321.0px">1350.000</div>
<div class="t pl" style="top:279.1px">1400.000</div>
<div class="t pl" style="top:237.2px">1450.000</div>
<div class="t pl" style="top:195.3px">1500.000</div>
<div class="t pl" style="top:153.4px">1550.000</div>
<div class="t pl" style="top:111.5px">1600.000</div>
<div class="t pl" style="top:69.6px">1650.000</div>
<div class="t pl" style="top:27.7px">1700.000</div>
<div style="position:absolute;left:1117.5px;top:151.2px;width:82.5px;height:23.6px;background:#2f7a1d"></div>
<div style="position:absolute;left:1118.5px;top:162.6px;width:2px;height:1px;background:#fff"></div>
<div class="t" style="left:1128.5px;top:155.3px;font-size:15.6px;color:#fff;letter-spacing:-0.3px;-webkit-text-stroke:0.4px #fff">1545.463</div>
<div class="t yl" style="left:35.4px;top:623px">2016</div>
<div class="t yl" style="left:171.8px;top:623px">2017</div>
<div class="t yl" style="left:308.6px;top:623px">2018</div>
<div class="t yl" style="left:448.5px;top:623px">2019</div>
<div class="t yl" style="left:585.3px;top:623px">2020</div>
<div class="t yl" style="left:722.1px;top:623px">2021</div>
<div class="t yl" style="left:858.7px;top:623px">2022</div>
<div class="t yl" style="left:996.3px;top:623px">2023</div>
<div class="t fl" style="left:990.3px;top:32.3px;color:#143f9f">0(1702.788)</div>
<div class="t fl" style="left:990.3px;top:140.0px;color:#143f9f">0.236(1574.244)</div>
<div class="t fl" style="left:990.3px;top:206.6px;color:#1616e8">0.382(1494.722)</div>
<div class="t fl" style="left:990.3px;top:260.5px;color:#143f9f">0.5(1430.450)</div>
<div class="t fl" style="left:990.3px;top:314.4px;color:#143f9f">0.618(1366.178)</div>
<div class="t fl" style="left:990.3px;top:391.0px;color:#143f9f">0.786(1274.672)</div>
<div class="t fl" style="left:990.3px;top:436.7px;color:#143f9f">0.886(1220.205)</div>
<div class="t fl" style="left:990.3px;top:488.7px;color:#143f9f">1(1158.111)</div>
<div style="position:absolute;left:1151.1px;top:622.9px;width:14.6px;height:14.6px;border-radius:50%;background:#eceef4"></div>
<div class="t" style="left:1151.3px;top:626.3px;width:14.2px;text-align:center;font-size:8px;color:#333">A</div>
<div class="t" id="title" style="left:7.5px;top:8.2px;font-size:12.4px;color:#3a3a3a;letter-spacing:-0.21px">Gold Spot / U.S. Dollar · 1W · OANDA</div>
<div class="t oh" style="left:218px;top:10.2px;font-size:10px;color:#2a6b45;letter-spacing:-0.27px">O1529.486</div>
<div class="t oh" style="left:271.7px;top:10.2px;font-size:10px;color:#2a6b45;letter-spacing:-0.27px">H1575.454</div>
<div class="t oh" style="left:324.8px;top:10.2px;font-size:10px;color:#2a6b45;letter-spacing:-0.27px">L1524.314</div>
<div class="t oh" style="left:376px;top:10.2px;font-size:10px;color:#2a6b45;letter-spacing:-0.27px">C1545.463</div>
<div class="t oh" style="left:428.4px;top:10.2px;font-size:10px;color:#2a6b45;letter-spacing:-0.27px">+15.976 (+1.04%)</div>
<div style="position:absolute;left:6px;top:24px;width:14.6px;height:15px;border:1px solid #d9dbe3;border-radius:3px;background:#fff"></div>
<svg width="10" height="6" style="left:9.5px;top:29.6px" viewBox="0 0 10 6"><path d="M2,1.2 L5,4.2 L8,1.2" fill="none" stroke="#222" stroke-width="1.3"/></svg>
<div class="t lg" id="lg0" style="top:28.0px;color:#4a4a4a">MA 100 close<span style="color:#ff6d00;left:66.1px">1361.353</span></div>
<div class="t lg" id="lg1" style="top:46.6px;color:#b4b7c6">BB 21 close 2</div>
<div class="t lg" id="lg2" style="top:65.3px;color:#4a4a4a;word-spacing:0.85px">Ichimoku 9 26 52 26<span style="color:#2196f3;left:98.2px">1604.032</span><span style="color:#a52a2a;left:143.8px">1574.495</span><span style="color:#43a047;left:189.8px">1545.463</span><span style="color:#43a047;left:235.2px">1445.288</span><span style="color:#ff5252;left:280.8px">1368.922</span></div>
<div class="t lg" id="lg3" style="top:84.0px;color:#4a4a4a">EMA 55 close<span style="color:#ff9800;left:66.1px">1468.312</span></div>
<div class="t lg" id="lg4" style="top:102.6px;color:#4a4a4a">MA 200 close<span style="color:#43a047;left:66.1px">1318.679</span></div>
<div class="t lg" id="lg5" style="top:121.3px;color:#4a4a4a">EMA 200 close<span style="color:#a01c1c;left:71.6px">1349.817</span></div>
<svg width="14.5" height="11" style="left:96.6px;top:45.4px" viewBox="0 0 16 12"><path d="M1.5,6 C3.5,2.6 6,1.8 8,1.8 S12.5,2.6 14.5,6 C12.5,9.4 10,10.2 8,10.2 S3.5,9.4 1.5,6Z" fill="none" stroke="#333" stroke-width="1"/><circle cx="8" cy="6" r="2" fill="none" stroke="#333" stroke-width="1"/><path d="M12.5,0.8 L3.5,11.2" stroke="#333" stroke-width="1.1"/></svg>
<div style="position:absolute;left:554px;top:-3px;width:97px;height:15px;border:1px solid #dcdde3;border-radius:3px;background:#fff"></div>
<div class="t" style="left:554px;top:2.8px;width:99px;text-align:center;font-size:8.6px;color:#b3b3b3;font-weight:bold;letter-spacing:-0.1px">Exit Full Screen (ESC)</div>
</body></html>
